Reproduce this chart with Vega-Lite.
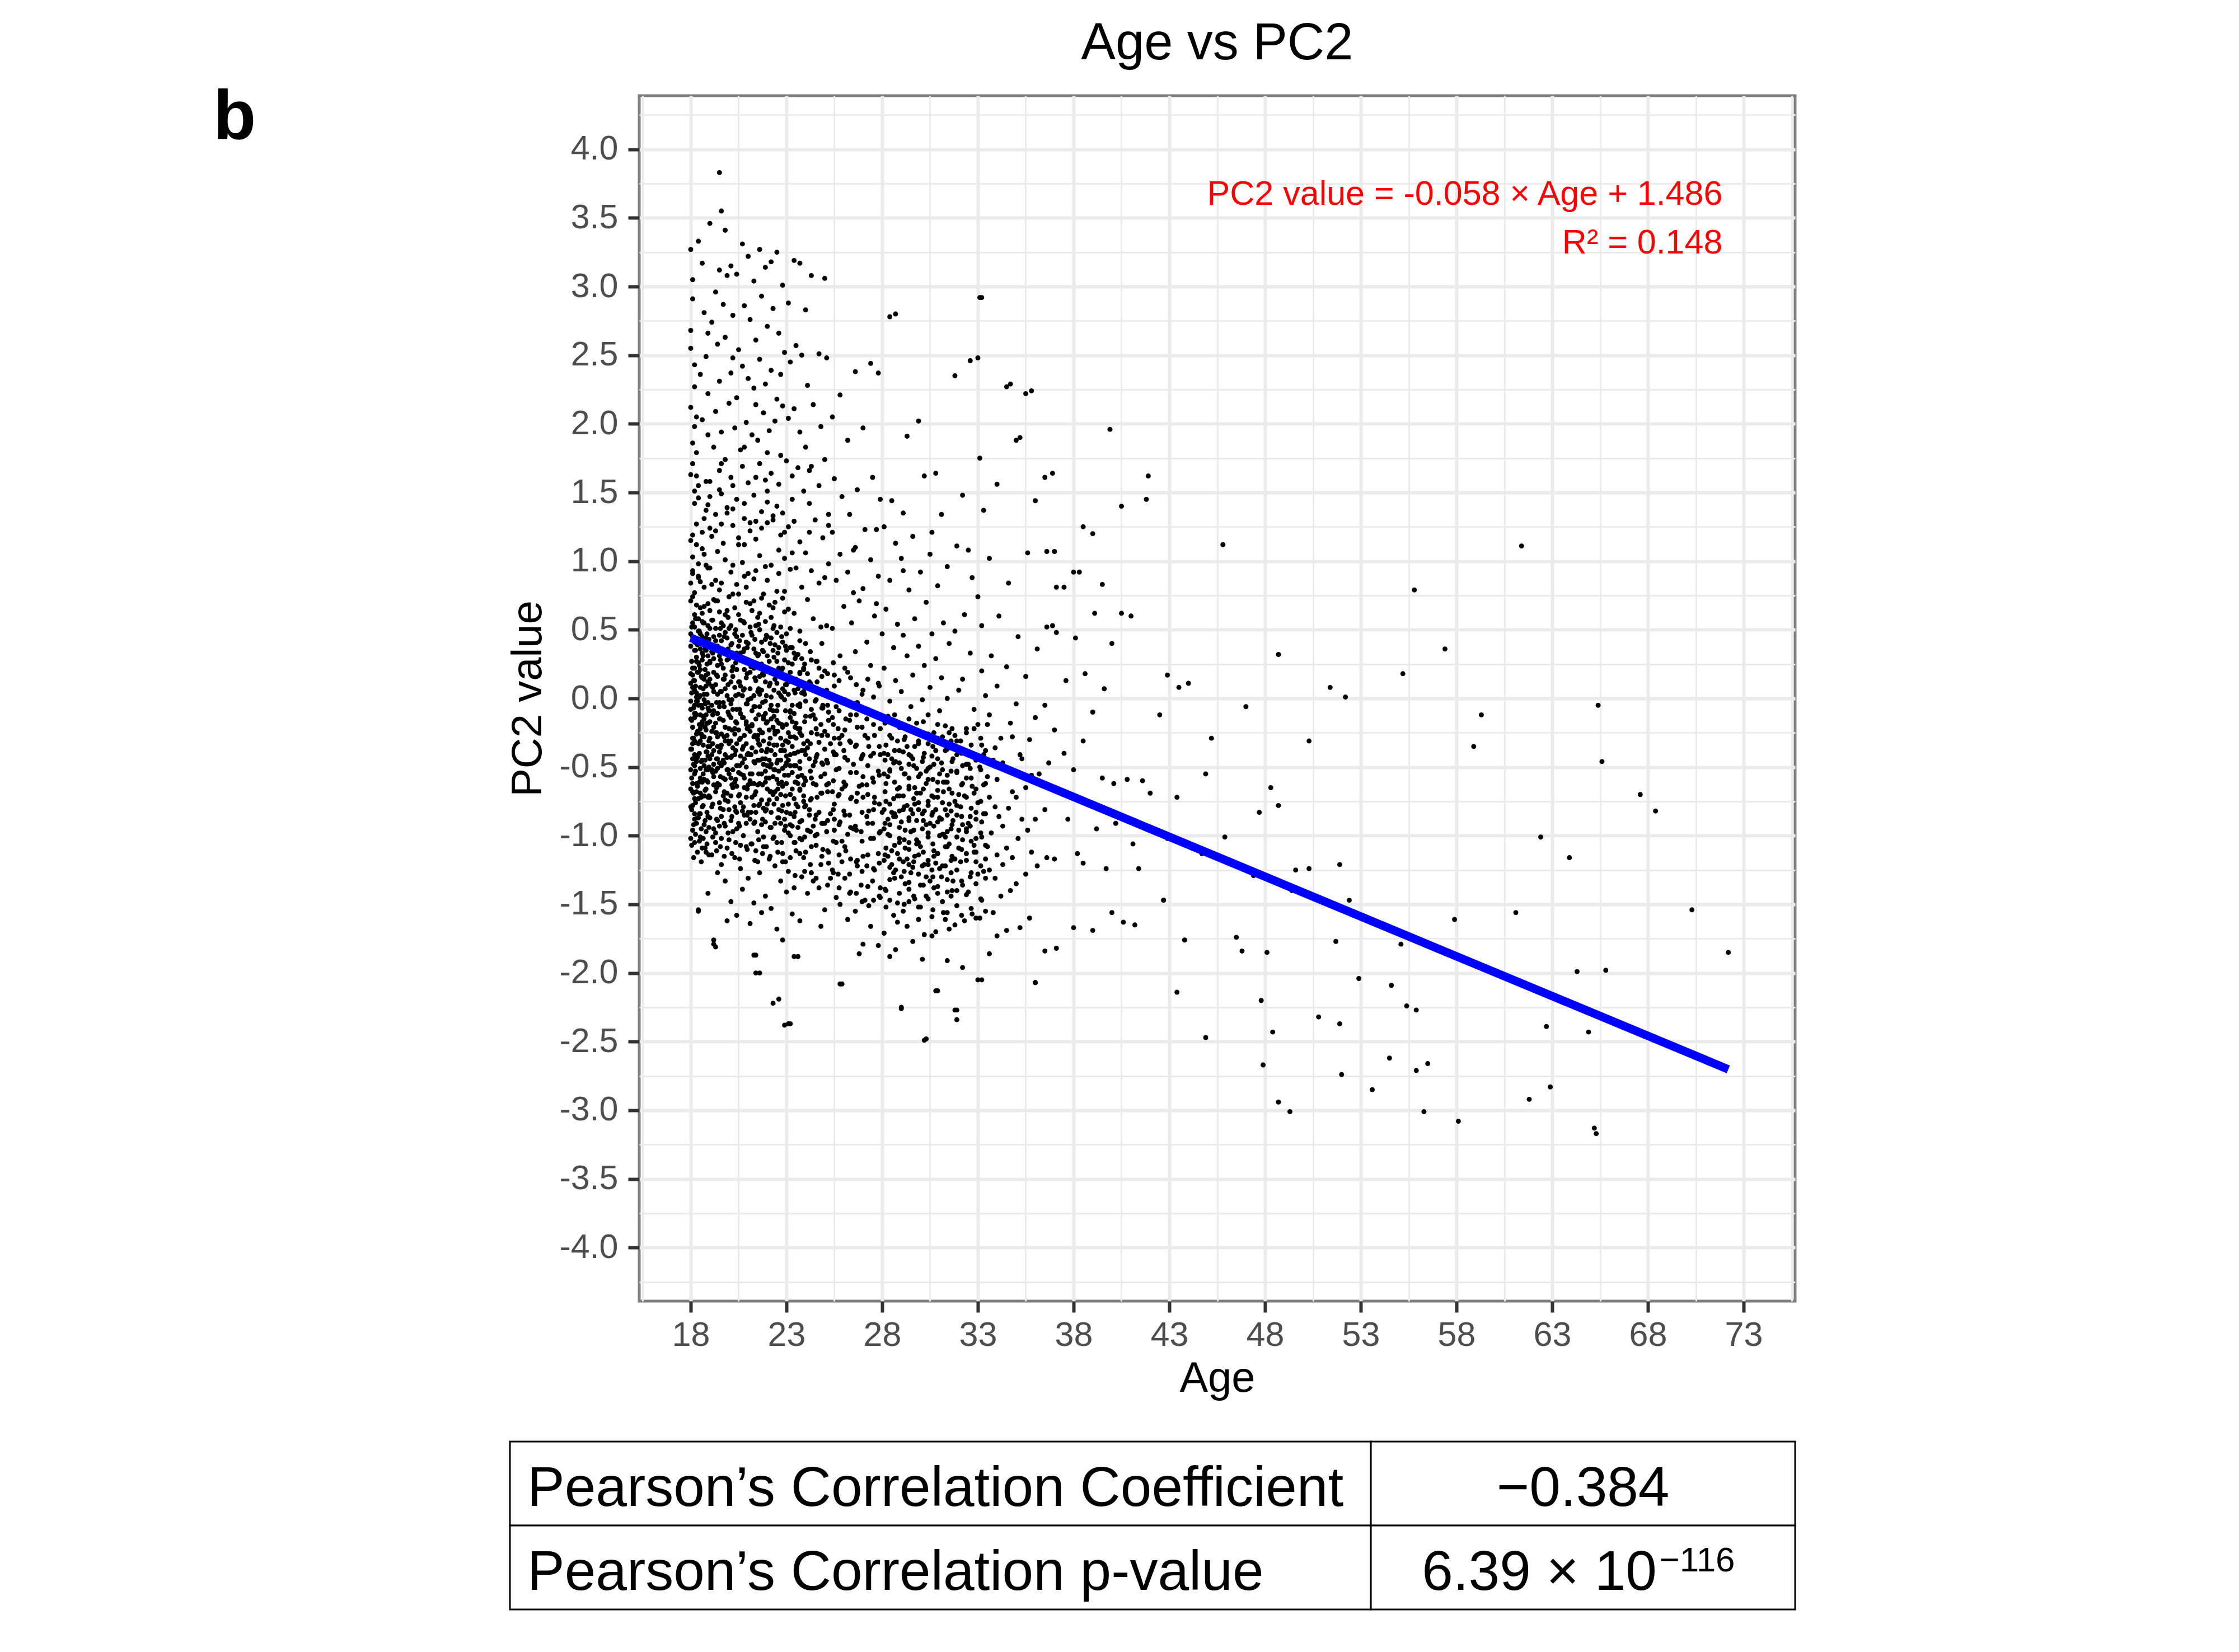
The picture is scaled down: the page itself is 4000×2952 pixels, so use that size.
{
  "$schema": "https://vega.github.io/schema/vega-lite/v6.json",
  "background": "white",
  "padding": {"left": 378, "top": 29, "right": 10, "bottom": 10},
  "spacing": 70,
  "config": {
    "font": "Liberation Sans",
    "view": {"stroke": "#7F7F7F", "strokeWidth": 5}
  },
  "datasets": {
    "points": [
      {"age":18.0,"pc2":3.27},{"age":18.1,"pc2":3.05},{"age":18.0,"pc2":2.68},{"age":18.2,"pc2":2.43},{"age":18.0,"pc2":2.12},{"age":18.1,"pc2":1.86},{"age":18.0,"pc2":1.63},{"age":18.2,"pc2":1.42},{"age":18.0,"pc2":1.15},{"age":18.1,"pc2":0.93},{"age":18.0,"pc2":0.71},{"age":18.2,"pc2":0.52},{"age":18.0,"pc2":0.38},{"age":18.1,"pc2":0.22},{"age":18.0,"pc2":0.11},{"age":18.3,"pc2":0.04},{"age":18.0,"pc2":-0.08},{"age":18.1,"pc2":-0.21},{"age":18.0,"pc2":-0.37},{"age":18.2,"pc2":-0.55},{"age":18.0,"pc2":-0.79},{"age":18.1,"pc2":-0.96},
      {"age":18.1,"pc2":2.91},{"age":18.0,"pc2":2.55},{"age":18.2,"pc2":1.98},{"age":18.1,"pc2":1.71},{"age":18.3,"pc2":1.27},{"age":18.1,"pc2":1.03},{"age":18.0,"pc2":0.84},{"age":18.2,"pc2":0.61},{"age":18.1,"pc2":0.45},{"age":18.3,"pc2":0.30},{"age":18.1,"pc2":0.17},{"age":18.2,"pc2":0.06},{"age":18.0,"pc2":-0.02},{"age":18.2,"pc2":-0.14},{"age":18.1,"pc2":-0.29},{"age":18.3,"pc2":-0.46},{"age":18.1,"pc2":-0.68},{"age":18.2,"pc2":-0.88},{"age":18.0,"pc2":-1.02},
      {"age":18.2,"pc2":2.27},{"age":18.3,"pc2":1.79},{"age":18.2,"pc2":1.51},{"age":18.4,"pc2":0.98},{"age":18.2,"pc2":0.77},{"age":18.3,"pc2":0.58},{"age":18.2,"pc2":0.41},{"age":18.4,"pc2":0.26},{"age":18.2,"pc2":0.13},{"age":18.3,"pc2":0.01},{"age":18.2,"pc2":-0.11},{"age":18.4,"pc2":-0.25},{"age":18.2,"pc2":-0.41},{"age":18.3,"pc2":-0.62},{"age":18.2,"pc2":-0.84},
      {"age":18.4,"pc2":3.33},{"age":18.5,"pc2":2.36},{"age":18.4,"pc2":1.55},{"age":18.6,"pc2":1.21},{"age":18.4,"pc2":0.89},{"age":18.5,"pc2":0.66},{"age":18.4,"pc2":0.49},{"age":18.6,"pc2":0.33},{"age":18.4,"pc2":0.19},{"age":18.5,"pc2":0.08},{"age":18.4,"pc2":-0.05},{"age":18.6,"pc2":-0.17},{"age":18.4,"pc2":-0.33},{"age":18.5,"pc2":-0.51},{"age":18.4,"pc2":-0.73},{"age":18.6,"pc2":-1.09},{"age":18.4,"pc2":-1.55},
      {"age":18.6,"pc2":3.17},{"age":18.7,"pc2":2.81},{"age":18.6,"pc2":2.03},{"age":18.8,"pc2":1.37},{"age":18.6,"pc2":1.09},{"age":18.7,"pc2":0.81},{"age":18.6,"pc2":0.56},{"age":18.8,"pc2":0.35},{"age":18.6,"pc2":0.15},{"age":18.7,"pc2":-0.01},{"age":18.6,"pc2":-0.19},{"age":18.8,"pc2":-0.39},{"age":18.6,"pc2":-0.61},{"age":18.7,"pc2":-0.92},
      {"age":18.8,"pc2":2.49},{"age":18.9,"pc2":1.92},{"age":18.8,"pc2":1.58},{"age":19.0,"pc2":1.24},{"age":18.8,"pc2":0.97},{"age":18.9,"pc2":0.69},{"age":18.8,"pc2":0.44},{"age":19.0,"pc2":0.27},{"age":18.8,"pc2":0.09},{"age":18.9,"pc2":-0.07},{"age":18.8,"pc2":-0.23},{"age":19.0,"pc2":-0.44},{"age":18.8,"pc2":-0.66},{"age":18.9,"pc2":-0.86},{"age":18.8,"pc2":-1.12},
      {"age":19.0,"pc2":3.46},{"age":19.1,"pc2":2.74},{"age":18.9,"pc2":2.22},{"age":19.2,"pc2":1.83},{"age":19.0,"pc2":1.47},{"age":19.1,"pc2":1.18},{"age":18.9,"pc2":0.95},{"age":19.2,"pc2":0.72},{"age":19.0,"pc2":0.51},{"age":19.1,"pc2":0.34},{"age":18.9,"pc2":0.18},{"age":19.2,"pc2":0.05},{"age":19.0,"pc2":-0.09},{"age":19.1,"pc2":-0.24},{"age":18.9,"pc2":-0.42},{"age":19.2,"pc2":-0.63},{"age":19.0,"pc2":-0.87},{"age":19.1,"pc2":-1.14},{"age":18.9,"pc2":-1.42},{"age":19.2,"pc2":-1.76},
      {"age":19.3,"pc2":2.96},{"age":19.4,"pc2":2.58},{"age":19.3,"pc2":2.09},{"age":19.5,"pc2":1.66},{"age":19.3,"pc2":1.34},{"age":19.4,"pc2":1.07},{"age":19.3,"pc2":0.86},{"age":19.5,"pc2":0.63},{"age":19.3,"pc2":0.42},{"age":19.4,"pc2":0.24},{"age":19.3,"pc2":0.10},{"age":19.5,"pc2":-0.03},{"age":19.3,"pc2":-0.18},{"age":19.4,"pc2":-0.35},{"age":19.3,"pc2":-0.53},{"age":19.5,"pc2":-0.76},{"age":19.3,"pc2":-0.98},{"age":19.4,"pc2":-1.27},{"age":19.3,"pc2":-1.81},
      {"age":19.5,"pc2":3.83},{"age":19.6,"pc2":3.55},{"age":19.5,"pc2":3.12},{"age":19.7,"pc2":2.87},{"age":19.5,"pc2":2.31},{"age":19.6,"pc2":1.94},{"age":19.5,"pc2":1.52},{"age":19.7,"pc2":1.13},{"age":19.5,"pc2":0.79},{"age":19.6,"pc2":0.55},{"age":19.5,"pc2":0.31},{"age":19.7,"pc2":0.14},{"age":19.5,"pc2":-0.06},{"age":19.6,"pc2":-0.26},{"age":19.5,"pc2":-0.47},{"age":19.7,"pc2":-0.71},{"age":19.5,"pc2":-0.93},{"age":19.6,"pc2":-1.21},
      {"age":19.8,"pc2":3.41},{"age":19.9,"pc2":3.08},{"age":19.8,"pc2":2.63},{"age":20.0,"pc2":2.15},{"age":19.8,"pc2":1.74},{"age":19.9,"pc2":1.39},{"age":19.8,"pc2":1.01},{"age":20.0,"pc2":0.74},{"age":19.8,"pc2":0.48},{"age":19.9,"pc2":0.28},{"age":19.8,"pc2":0.07},{"age":20.0,"pc2":-0.12},{"age":19.8,"pc2":-0.31},{"age":19.9,"pc2":-0.52},{"age":19.8,"pc2":-0.74},{"age":20.0,"pc2":-1.03},{"age":19.8,"pc2":-1.33},{"age":19.9,"pc2":-1.62},
      {"age":20.1,"pc2":3.15},{"age":20.2,"pc2":2.79},{"age":20.1,"pc2":2.37},{"age":20.3,"pc2":1.97},{"age":20.1,"pc2":1.61},{"age":20.2,"pc2":1.26},{"age":20.1,"pc2":0.92},{"age":20.3,"pc2":0.66},{"age":20.1,"pc2":0.39},{"age":20.2,"pc2":0.16},{"age":20.1,"pc2":-0.04},{"age":20.3,"pc2":-0.22},{"age":20.1,"pc2":-0.43},{"age":20.2,"pc2":-0.65},{"age":20.1,"pc2":-0.89},{"age":20.3,"pc2":-1.16},{"age":20.1,"pc2":-1.48},
      {"age":20.4,"pc2":3.09},{"age":20.5,"pc2":2.54},{"age":20.4,"pc2":2.19},{"age":20.6,"pc2":1.81},{"age":20.4,"pc2":1.45},{"age":20.5,"pc2":1.12},{"age":20.4,"pc2":0.83},{"age":20.6,"pc2":0.57},{"age":20.4,"pc2":0.33},{"age":20.5,"pc2":0.12},{"age":20.4,"pc2":-0.08},{"age":20.6,"pc2":-0.29},{"age":20.4,"pc2":-0.49},{"age":20.5,"pc2":-0.71},{"age":20.4,"pc2":-0.95},{"age":20.6,"pc2":-1.24},{"age":20.4,"pc2":-1.58},
      {"age":20.7,"pc2":3.31},{"age":20.8,"pc2":2.86},{"age":20.7,"pc2":2.42},{"age":20.9,"pc2":2.01},{"age":20.7,"pc2":1.69},{"age":20.8,"pc2":1.31},{"age":20.7,"pc2":0.99},{"age":20.9,"pc2":0.70},{"age":20.7,"pc2":0.46},{"age":20.8,"pc2":0.21},{"age":20.7,"pc2":0.02},{"age":20.9,"pc2":-0.17},{"age":20.7,"pc2":-0.37},{"age":20.8,"pc2":-0.58},{"age":20.7,"pc2":-0.82},{"age":20.9,"pc2":-1.08},{"age":20.7,"pc2":-1.39},
      {"age":21.0,"pc2":3.22},{"age":21.1,"pc2":2.76},{"age":21.0,"pc2":2.33},{"age":21.2,"pc2":1.92},{"age":21.0,"pc2":1.57},{"age":21.1,"pc2":1.22},{"age":21.0,"pc2":0.91},{"age":21.2,"pc2":0.64},{"age":21.0,"pc2":0.40},{"age":21.1,"pc2":0.19},{"age":21.0,"pc2":-0.01},{"age":21.2,"pc2":-0.20},{"age":21.0,"pc2":-0.40},{"age":21.1,"pc2":-0.60},{"age":21.0,"pc2":-0.83},{"age":21.2,"pc2":-1.06},{"age":21.0,"pc2":-1.31},{"age":21.1,"pc2":-1.64},
      {"age":21.3,"pc2":3.04},{"age":21.4,"pc2":2.61},{"age":21.3,"pc2":2.26},{"age":21.5,"pc2":1.88},{"age":21.3,"pc2":1.48},{"age":21.4,"pc2":1.16},{"age":21.3,"pc2":0.87},{"age":21.5,"pc2":0.59},{"age":21.3,"pc2":0.36},{"age":21.4,"pc2":0.13},{"age":21.3,"pc2":-0.06},{"age":21.5,"pc2":-0.27},{"age":21.3,"pc2":-0.46},{"age":21.4,"pc2":-0.68},{"age":21.3,"pc2":-0.91},{"age":21.5,"pc2":-1.19},{"age":21.3,"pc2":-1.49},{"age":21.4,"pc2":-1.87},
      {"age":21.6,"pc2":3.27},{"age":21.7,"pc2":2.93},{"age":21.6,"pc2":2.47},{"age":21.8,"pc2":2.08},{"age":21.6,"pc2":1.71},{"age":21.7,"pc2":1.36},{"age":21.6,"pc2":1.04},{"age":21.8,"pc2":0.76},{"age":21.6,"pc2":0.50},{"age":21.7,"pc2":0.25},{"age":21.6,"pc2":0.03},{"age":21.8,"pc2":-0.15},{"age":21.6,"pc2":-0.34},{"age":21.7,"pc2":-0.55},{"age":21.6,"pc2":-0.77},{"age":21.8,"pc2":-1.01},{"age":21.6,"pc2":-1.27},{"age":21.7,"pc2":-1.56},{"age":21.6,"pc2":-2.00},
      {"age":21.9,"pc2":3.14},{"age":22.0,"pc2":2.71},{"age":21.9,"pc2":2.29},{"age":22.1,"pc2":1.95},{"age":21.9,"pc2":1.59},{"age":22.0,"pc2":1.28},{"age":21.9,"pc2":0.96},{"age":22.1,"pc2":0.68},{"age":21.9,"pc2":0.43},{"age":22.0,"pc2":0.20},{"age":21.9,"pc2":-0.02},{"age":22.1,"pc2":-0.23},{"age":21.9,"pc2":-0.44},{"age":22.0,"pc2":-0.66},{"age":21.9,"pc2":-0.90},{"age":22.1,"pc2":-1.17},{"age":21.9,"pc2":-1.44},
      {"age":22.2,"pc2":3.18},{"age":22.3,"pc2":2.84},{"age":22.2,"pc2":2.39},{"age":22.4,"pc2":2.02},{"age":22.2,"pc2":1.64},{"age":22.3,"pc2":1.30},{"age":22.2,"pc2":0.97},{"age":22.4,"pc2":0.70},{"age":22.2,"pc2":0.44},{"age":22.3,"pc2":0.18},{"age":22.2,"pc2":-0.05},{"age":22.4,"pc2":-0.26},{"age":22.2,"pc2":-0.48},{"age":22.3,"pc2":-0.70},{"age":22.2,"pc2":-0.94},{"age":22.4,"pc2":-1.22},{"age":22.2,"pc2":-1.53},{"age":22.3,"pc2":-2.22},
      {"age":22.5,"pc2":3.25},{"age":22.6,"pc2":2.66},{"age":22.5,"pc2":2.18},{"age":22.7,"pc2":1.77},{"age":22.5,"pc2":1.40},{"age":22.6,"pc2":1.08},{"age":22.5,"pc2":0.78},{"age":22.7,"pc2":0.52},{"age":22.5,"pc2":0.27},{"age":22.6,"pc2":0.04},{"age":22.5,"pc2":-0.16},{"age":22.7,"pc2":-0.38},{"age":22.5,"pc2":-0.59},{"age":22.6,"pc2":-0.81},{"age":22.5,"pc2":-1.05},{"age":22.7,"pc2":-1.33},{"age":22.5,"pc2":-1.68},
      {"age":22.8,"pc2":3.01},{"age":22.9,"pc2":2.52},{"age":22.8,"pc2":2.13},{"age":23.0,"pc2":1.73},{"age":22.8,"pc2":1.35},{"age":22.9,"pc2":1.02},{"age":22.8,"pc2":0.73},{"age":23.0,"pc2":0.47},{"age":22.8,"pc2":0.22},{"age":22.9,"pc2":-0.01},{"age":22.8,"pc2":-0.21},{"age":23.0,"pc2":-0.42},{"age":22.8,"pc2":-0.64},{"age":22.9,"pc2":-0.88},{"age":22.8,"pc2":-1.13},{"age":23.0,"pc2":-1.41},{"age":22.8,"pc2":-1.76},{"age":22.9,"pc2":-2.38},
      {"age":23.1,"pc2":2.88},{"age":23.2,"pc2":2.45},{"age":23.1,"pc2":2.04},{"age":23.3,"pc2":1.62},{"age":23.1,"pc2":1.25},{"age":23.2,"pc2":0.94},{"age":23.1,"pc2":0.65},{"age":23.3,"pc2":0.37},{"age":23.1,"pc2":0.12},{"age":23.2,"pc2":-0.10},{"age":23.1,"pc2":-0.32},{"age":23.3,"pc2":-0.54},{"age":23.1,"pc2":-0.77},{"age":23.2,"pc2":-1.00},{"age":23.1,"pc2":-1.26},{"age":23.3,"pc2":-1.57},{"age":23.2,"pc2":-2.37},
      {"age":23.4,"pc2":3.19},{"age":23.5,"pc2":2.57},{"age":23.4,"pc2":2.11},{"age":23.6,"pc2":1.68},{"age":23.4,"pc2":1.29},{"age":23.5,"pc2":0.95},{"age":23.4,"pc2":0.62},{"age":23.6,"pc2":0.32},{"age":23.4,"pc2":0.06},{"age":23.5,"pc2":-0.18},{"age":23.4,"pc2":-0.40},{"age":23.6,"pc2":-0.62},{"age":23.4,"pc2":-0.86},{"age":23.5,"pc2":-1.11},{"age":23.4,"pc2":-1.38},{"age":23.6,"pc2":-1.88},
      {"age":23.7,"pc2":3.17},{"age":23.8,"pc2":2.50},{"age":23.7,"pc2":1.94},{"age":23.9,"pc2":1.51},{"age":23.7,"pc2":1.14},{"age":23.8,"pc2":0.81},{"age":23.7,"pc2":0.49},{"age":23.9,"pc2":0.21},{"age":23.7,"pc2":-0.04},{"age":23.8,"pc2":-0.27},{"age":23.7,"pc2":-0.51},{"age":23.9,"pc2":-0.75},{"age":23.7,"pc2":-1.02},{"age":23.8,"pc2":-1.30},{"age":23.7,"pc2":-1.62},
      {"age":24.0,"pc2":2.83},{"age":24.1,"pc2":2.28},{"age":24.0,"pc2":1.83},{"age":24.2,"pc2":1.42},{"age":24.0,"pc2":1.06},{"age":24.1,"pc2":0.72},{"age":24.0,"pc2":0.40},{"age":24.2,"pc2":0.12},{"age":24.0,"pc2":-0.13},{"age":24.1,"pc2":-0.36},{"age":24.0,"pc2":-0.60},{"age":24.2,"pc2":-0.85},{"age":24.0,"pc2":-1.12},{"age":24.1,"pc2":-1.42},
      {"age":24.3,"pc2":3.08},{"age":24.4,"pc2":2.14},{"age":24.3,"pc2":1.69},{"age":24.5,"pc2":1.30},{"age":24.3,"pc2":0.93},{"age":24.4,"pc2":0.58},{"age":24.3,"pc2":0.28},{"age":24.5,"pc2":-0.02},{"age":24.3,"pc2":-0.25},{"age":24.4,"pc2":-0.49},{"age":24.3,"pc2":-0.73},{"age":24.5,"pc2":-1.00},{"age":24.3,"pc2":-1.27},{"age":24.4,"pc2":-1.33},
      {"age":24.7,"pc2":2.51},{"age":24.8,"pc2":1.98},{"age":24.7,"pc2":1.55},{"age":24.9,"pc2":1.17},{"age":24.7,"pc2":0.84},{"age":24.8,"pc2":0.52},{"age":24.7,"pc2":0.22},{"age":24.9,"pc2":-0.07},{"age":24.7,"pc2":-0.32},{"age":24.8,"pc2":-0.57},{"age":24.7,"pc2":-0.83},{"age":24.9,"pc2":-1.10},{"age":24.7,"pc2":-1.38},{"age":24.8,"pc2":-1.66},
      {"age":25.0,"pc2":3.06},{"age":25.1,"pc2":2.48},{"age":25.0,"pc2":1.74},{"age":25.2,"pc2":1.26},{"age":25.0,"pc2":0.88},{"age":25.1,"pc2":0.53},{"age":25.0,"pc2":0.20},{"age":25.2,"pc2":-0.10},{"age":25.0,"pc2":-0.37},{"age":25.1,"pc2":-0.63},{"age":25.0,"pc2":-0.91},{"age":25.2,"pc2":-1.20},{"age":25.0,"pc2":-1.54},
      {"age":25.4,"pc2":2.05},{"age":25.5,"pc2":1.60},{"age":25.4,"pc2":1.21},{"age":25.6,"pc2":0.86},{"age":25.4,"pc2":0.51},{"age":25.5,"pc2":0.17},{"age":25.4,"pc2":-0.14},{"age":25.6,"pc2":-0.41},{"age":25.4,"pc2":-0.68},{"age":25.5,"pc2":-0.96},{"age":25.4,"pc2":-1.25},{"age":25.6,"pc2":-1.45},
      {"age":25.8,"pc2":2.21},{"age":25.9,"pc2":1.47},{"age":25.8,"pc2":1.05},{"age":26.0,"pc2":0.67},{"age":25.8,"pc2":0.31},{"age":25.9,"pc2":-0.02},{"age":25.8,"pc2":-0.33},{"age":26.0,"pc2":-0.61},{"age":25.8,"pc2":-0.90},{"age":25.9,"pc2":-1.19},{"age":25.8,"pc2":-1.50},{"age":25.9,"pc2":-2.08},
      {"age":26.2,"pc2":1.88},{"age":26.3,"pc2":1.34},{"age":26.2,"pc2":0.92},{"age":26.4,"pc2":0.55},{"age":26.2,"pc2":0.19},{"age":26.3,"pc2":-0.16},{"age":26.2,"pc2":-0.45},{"age":26.4,"pc2":-0.72},{"age":26.2,"pc2":-0.99},{"age":26.3,"pc2":-1.28},{"age":26.2,"pc2":-1.61},
      {"age":26.6,"pc2":2.38},{"age":26.7,"pc2":1.52},{"age":26.6,"pc2":1.10},{"age":26.8,"pc2":0.71},{"age":26.6,"pc2":0.34},{"age":26.7,"pc2":-0.03},{"age":26.6,"pc2":-0.35},{"age":26.8,"pc2":-0.64},{"age":26.6,"pc2":-0.93},{"age":26.7,"pc2":-1.22},{"age":26.6,"pc2":-1.55},{"age":26.8,"pc2":-1.86},
      {"age":27.0,"pc2":1.97},{"age":27.1,"pc2":1.23},{"age":27.0,"pc2":0.80},{"age":27.2,"pc2":0.41},{"age":27.0,"pc2":0.06},{"age":27.1,"pc2":-0.27},{"age":27.0,"pc2":-0.57},{"age":27.2,"pc2":-0.86},{"age":27.0,"pc2":-1.15},{"age":27.1,"pc2":-1.47},{"age":27.0,"pc2":-1.79},
      {"age":27.4,"pc2":2.44},{"age":27.5,"pc2":1.61},{"age":27.4,"pc2":1.01},{"age":27.6,"pc2":0.60},{"age":27.4,"pc2":0.24},{"age":27.5,"pc2":-0.11},{"age":27.4,"pc2":-0.42},{"age":27.6,"pc2":-0.72},{"age":27.4,"pc2":-1.02},{"age":27.5,"pc2":-1.33},{"age":27.4,"pc2":-1.66},
      {"age":27.8,"pc2":2.37},{"age":27.9,"pc2":1.45},{"age":27.8,"pc2":0.89},{"age":28.0,"pc2":0.47},{"age":27.8,"pc2":0.11},{"age":27.9,"pc2":-0.22},{"age":27.8,"pc2":-0.53},{"age":28.0,"pc2":-0.83},{"age":27.8,"pc2":-1.13},{"age":27.9,"pc2":-1.45},{"age":27.8,"pc2":-1.80},
      {"age":28.1,"pc2":1.25},{"age":28.2,"pc2":0.65},{"age":28.1,"pc2":0.22},{"age":28.3,"pc2":-0.13},{"age":28.1,"pc2":-0.40},{"age":28.2,"pc2":-0.62},{"age":28.1,"pc2":-0.81},{"age":28.3,"pc2":-0.99},{"age":28.1,"pc2":-1.18},{"age":28.2,"pc2":-1.40},{"age":28.1,"pc2":-1.71},
      {"age":28.4,"pc2":2.78},{"age":28.5,"pc2":1.44},{"age":28.4,"pc2":0.86},{"age":28.6,"pc2":0.37},{"age":28.4,"pc2":-0.02},{"age":28.5,"pc2":-0.29},{"age":28.4,"pc2":-0.52},{"age":28.6,"pc2":-0.73},{"age":28.4,"pc2":-0.92},{"age":28.5,"pc2":-1.11},{"age":28.4,"pc2":-1.32},{"age":28.6,"pc2":-1.58},{"age":28.4,"pc2":-1.88},
      {"age":28.7,"pc2":1.13},{"age":28.8,"pc2":0.54},{"age":28.7,"pc2":0.13},{"age":28.9,"pc2":-0.21},{"age":28.7,"pc2":-0.46},{"age":28.8,"pc2":-0.66},{"age":28.7,"pc2":-0.86},{"age":28.9,"pc2":-1.05},{"age":28.7,"pc2":-1.25},{"age":28.8,"pc2":-1.49},{"age":28.7,"pc2":-1.83},
      {"age":29.0,"pc2":1.02},{"age":29.1,"pc2":0.46},{"age":29.0,"pc2":0.05},{"age":29.2,"pc2":-0.28},{"age":29.0,"pc2":-0.51},{"age":29.1,"pc2":-0.71},{"age":29.0,"pc2":-0.90},{"age":29.2,"pc2":-1.09},{"age":29.0,"pc2":-1.30},{"age":29.1,"pc2":-1.55},{"age":29.0,"pc2":-2.26},
      {"age":29.3,"pc2":1.91},{"age":29.4,"pc2":0.79},{"age":29.3,"pc2":0.31},{"age":29.5,"pc2":-0.06},{"age":29.3,"pc2":-0.35},{"age":29.4,"pc2":-0.58},{"age":29.3,"pc2":-0.78},{"age":29.5,"pc2":-0.97},{"age":29.3,"pc2":-1.17},{"age":29.4,"pc2":-1.39},{"age":29.3,"pc2":-1.66},
      {"age":29.6,"pc2":1.18},{"age":29.7,"pc2":0.58},{"age":29.6,"pc2":0.17},{"age":29.8,"pc2":-0.18},{"age":29.6,"pc2":-0.44},{"age":29.7,"pc2":-0.65},{"age":29.6,"pc2":-0.84},{"age":29.8,"pc2":-1.03},{"age":29.6,"pc2":-1.23},{"age":29.7,"pc2":-1.46},{"age":29.6,"pc2":-1.77},
      {"age":29.9,"pc2":2.02},{"age":30.0,"pc2":0.92},{"age":29.9,"pc2":0.38},{"age":30.1,"pc2":-0.01},{"age":29.9,"pc2":-0.31},{"age":30.0,"pc2":-0.55},{"age":29.9,"pc2":-0.76},{"age":30.1,"pc2":-0.95},{"age":29.9,"pc2":-1.14},{"age":30.0,"pc2":-1.36},{"age":29.9,"pc2":-1.61},{"age":30.1,"pc2":-1.90},
      {"age":30.2,"pc2":1.62},{"age":30.3,"pc2":0.70},{"age":30.2,"pc2":0.24},{"age":30.4,"pc2":-0.12},{"age":30.2,"pc2":-0.40},{"age":30.3,"pc2":-0.62},{"age":30.2,"pc2":-0.82},{"age":30.4,"pc2":-1.01},{"age":30.2,"pc2":-1.21},{"age":30.3,"pc2":-1.44},{"age":30.2,"pc2":-1.72},{"age":30.3,"pc2":-2.48},
      {"age":30.5,"pc2":1.05},{"age":30.6,"pc2":0.47},{"age":30.5,"pc2":0.08},{"age":30.7,"pc2":-0.25},{"age":30.5,"pc2":-0.50},{"age":30.6,"pc2":-0.71},{"age":30.5,"pc2":-0.91},{"age":30.7,"pc2":-1.11},{"age":30.5,"pc2":-1.33},{"age":30.6,"pc2":-1.59},
      {"age":30.8,"pc2":1.64},{"age":30.9,"pc2":0.82},{"age":30.8,"pc2":0.29},{"age":31.0,"pc2":-0.09},{"age":30.8,"pc2":-0.38},{"age":30.9,"pc2":-0.61},{"age":30.8,"pc2":-0.81},{"age":31.0,"pc2":-1.00},{"age":30.8,"pc2":-1.20},{"age":30.9,"pc2":-1.42},{"age":30.8,"pc2":-1.70},{"age":30.9,"pc2":-2.13},
      {"age":31.1,"pc2":1.34},{"age":31.2,"pc2":0.55},{"age":31.1,"pc2":0.15},{"age":31.3,"pc2":-0.20},{"age":31.1,"pc2":-0.47},{"age":31.2,"pc2":-0.68},{"age":31.1,"pc2":-0.88},{"age":31.3,"pc2":-1.08},{"age":31.1,"pc2":-1.30},{"age":31.2,"pc2":-1.56},
      {"age":31.4,"pc2":0.96},{"age":31.5,"pc2":0.40},{"age":31.4,"pc2":0.00},{"age":31.6,"pc2":-0.31},{"age":31.4,"pc2":-0.56},{"age":31.5,"pc2":-0.77},{"age":31.4,"pc2":-0.97},{"age":31.6,"pc2":-1.18},{"age":31.4,"pc2":-1.41},{"age":31.5,"pc2":-1.68},{"age":31.4,"pc2":-1.91},
      {"age":31.8,"pc2":2.35},{"age":31.9,"pc2":1.11},{"age":31.8,"pc2":0.49},{"age":32.0,"pc2":0.06},{"age":31.8,"pc2":-0.27},{"age":31.9,"pc2":-0.53},{"age":31.8,"pc2":-0.75},{"age":32.0,"pc2":-0.96},{"age":31.8,"pc2":-1.17},{"age":31.9,"pc2":-1.40},{"age":31.8,"pc2":-1.65},{"age":31.9,"pc2":-2.27},
      {"age":32.2,"pc2":1.48},{"age":32.3,"pc2":0.61},{"age":32.2,"pc2":0.14},{"age":32.4,"pc2":-0.22},{"age":32.2,"pc2":-0.49},{"age":32.3,"pc2":-0.71},{"age":32.2,"pc2":-0.92},{"age":32.4,"pc2":-1.13},{"age":32.2,"pc2":-1.36},{"age":32.3,"pc2":-1.62},{"age":32.2,"pc2":-1.96},
      {"age":32.6,"pc2":2.46},{"age":32.7,"pc2":0.88},{"age":32.6,"pc2":0.33},{"age":32.8,"pc2":-0.08},{"age":32.6,"pc2":-0.40},{"age":32.7,"pc2":-0.64},{"age":32.6,"pc2":-0.86},{"age":32.8,"pc2":-1.07},{"age":32.6,"pc2":-1.30},{"age":32.7,"pc2":-1.57},
      {"age":33.0,"pc2":2.48},{"age":33.1,"pc2":1.75},{"age":33.0,"pc2":0.74},{"age":33.2,"pc2":0.20},{"age":33.0,"pc2":-0.19},{"age":33.1,"pc2":-0.50},{"age":33.0,"pc2":-0.76},{"age":33.2,"pc2":-1.01},{"age":33.0,"pc2":-1.28},{"age":33.1,"pc2":-1.60},{"age":33.0,"pc2":-2.05},
      {"age":33.2,"pc2":2.92},{"age":33.3,"pc2":1.37},{"age":33.2,"pc2":0.53},{"age":33.4,"pc2":0.02},{"age":33.2,"pc2":-0.34},{"age":33.3,"pc2":-0.63},{"age":33.2,"pc2":-0.90},{"age":33.4,"pc2":-1.17},{"age":33.2,"pc2":-1.47},
      {"age":33.6,"pc2":1.02},{"age":33.7,"pc2":0.31},{"age":33.6,"pc2":-0.12},{"age":33.8,"pc2":-0.45},{"age":33.6,"pc2":-0.72},{"age":33.7,"pc2":-0.98},{"age":33.6,"pc2":-1.25},{"age":33.8,"pc2":-1.56},{"age":33.6,"pc2":-1.86},
      {"age":34.0,"pc2":1.56},{"age":34.1,"pc2":0.60},{"age":34.0,"pc2":0.09},{"age":34.2,"pc2":-0.29},{"age":34.0,"pc2":-0.59},{"age":34.1,"pc2":-0.86},{"age":34.0,"pc2":-1.14},{"age":34.2,"pc2":-1.44},{"age":34.0,"pc2":-1.73},
      {"age":34.5,"pc2":2.27},{"age":34.6,"pc2":0.84},{"age":34.5,"pc2":0.23},{"age":34.7,"pc2":-0.18},{"age":34.5,"pc2":-0.51},{"age":34.6,"pc2":-0.80},{"age":34.5,"pc2":-1.09},{"age":34.7,"pc2":-1.40},{"age":34.5,"pc2":-1.69},
      {"age":35.0,"pc2":1.88},{"age":35.1,"pc2":0.45},{"age":35.0,"pc2":-0.04},{"age":35.2,"pc2":-0.41},{"age":35.0,"pc2":-0.72},{"age":35.1,"pc2":-1.02},{"age":35.0,"pc2":-1.35},{"age":35.2,"pc2":-1.67},
      {"age":35.5,"pc2":2.22},{"age":35.6,"pc2":1.06},{"age":35.5,"pc2":0.16},{"age":35.7,"pc2":-0.30},{"age":35.5,"pc2":-0.65},{"age":35.6,"pc2":-0.96},{"age":35.5,"pc2":-1.28},{"age":35.7,"pc2":-1.60},
      {"age":36.0,"pc2":1.44},{"age":36.1,"pc2":0.36},{"age":36.0,"pc2":-0.14},{"age":36.2,"pc2":-0.55},{"age":36.0,"pc2":-0.88},{"age":36.1,"pc2":-1.22},{"age":36.0,"pc2":-2.07},
      {"age":36.5,"pc2":1.61},{"age":36.6,"pc2":0.52},{"age":36.5,"pc2":-0.05},{"age":36.7,"pc2":-0.47},{"age":36.5,"pc2":-0.81},{"age":36.6,"pc2":-1.16},{"age":36.5,"pc2":-1.84},
      {"age":37.0,"pc2":1.07},{"age":37.1,"pc2":0.48},{"age":37.0,"pc2":-0.23},{"age":37.2,"pc2":-0.67},{"age":37.0,"pc2":-1.17},{"age":37.1,"pc2":-1.82},
      {"age":37.5,"pc2":0.81},{"age":37.6,"pc2":0.13},{"age":37.5,"pc2":-0.40},{"age":37.7,"pc2":-0.88},
      {"age":38.0,"pc2":0.92},{"age":38.1,"pc2":0.44},{"age":38.0,"pc2":-0.52},{"age":38.2,"pc2":-1.13},{"age":38.0,"pc2":-1.67},
      {"age":38.5,"pc2":1.25},{"age":38.6,"pc2":0.18},{"age":38.5,"pc2":-0.31},{"age":38.7,"pc2":-0.76},{"age":38.5,"pc2":-1.20},
      {"age":39.0,"pc2":1.20},{"age":39.1,"pc2":0.62},{"age":39.0,"pc2":-0.10},{"age":39.2,"pc2":-0.95},{"age":39.0,"pc2":-1.69},
      {"age":39.5,"pc2":0.83},{"age":39.6,"pc2":0.07},{"age":39.5,"pc2":-0.58},{"age":39.7,"pc2":-1.24},
      {"age":39.9,"pc2":1.96},{"age":40.0,"pc2":0.40},{"age":40.1,"pc2":-0.62},{"age":40.0,"pc2":-1.56},
      {"age":40.5,"pc2":1.40},{"age":40.5,"pc2":0.62},{"age":40.8,"pc2":-0.59},{"age":40.2,"pc2":-0.91},{"age":40.6,"pc2":-1.63},
      {"age":41.1,"pc2":-1.06},{"age":41.4,"pc2":-1.24},{"age":41.2,"pc2":-1.65},{"age":41.0,"pc2":0.60},
      {"age":41.9,"pc2":1.62},{"age":41.8,"pc2":1.45},{"age":41.6,"pc2":-0.60},{"age":42.0,"pc2":-0.69},{"age":42.5,"pc2":-0.12},{"age":42.7,"pc2":-1.47},
      {"age":42.9,"pc2":0.17},{"age":44.0,"pc2":0.11},{"age":43.5,"pc2":0.08},{"age":45.8,"pc2":1.12},{"age":61.4,"pc2":1.11},{"age":55.8,"pc2":0.79},{"age":57.4,"pc2":0.36},{"age":48.7,"pc2":0.32},{"age":55.2,"pc2":0.18},{"age":51.4,"pc2":0.08},{"age":52.2,"pc2":0.01},{"age":47.0,"pc2":-0.06},{"age":59.3,"pc2":-0.12},{"age":65.4,"pc2":-0.05},{"age":45.2,"pc2":-0.29},{"age":50.3,"pc2":-0.31},{"age":58.9,"pc2":-0.35},{"age":44.9,"pc2":-0.55},{"age":65.6,"pc2":-0.46},{"age":48.3,"pc2":-0.65},{"age":48.7,"pc2":-0.78},{"age":47.7,"pc2":-0.83},{"age":67.6,"pc2":-0.70},{"age":68.4,"pc2":-0.82},{"age":43.4,"pc2":-0.72},{"age":45.9,"pc2":-1.01},{"age":42.9,"pc2":-1.02},{"age":62.4,"pc2":-1.01},{"age":63.9,"pc2":-1.16},{"age":44.7,"pc2":-1.13},{"age":51.9,"pc2":-1.21},{"age":49.6,"pc2":-1.25},{"age":50.3,"pc2":-1.24},{"age":47.4,"pc2":-1.29},{"age":49.4,"pc2":-1.40},{"age":52.4,"pc2":-1.47},{"age":42.7,"pc2":-1.47},{"age":61.1,"pc2":-1.56},{"age":57.9,"pc2":-1.61},{"age":70.3,"pc2":-1.54},{"age":51.7,"pc2":-1.77},{"age":46.5,"pc2":-1.74},{"age":43.8,"pc2":-1.76},{"age":46.8,"pc2":-1.84},{"age":55.1,"pc2":-1.79},{"age":48.1,"pc2":-1.85},{"age":72.2,"pc2":-1.85},{"age":65.8,"pc2":-1.98},{"age":64.3,"pc2":-1.99},{"age":52.9,"pc2":-2.04},{"age":54.6,"pc2":-2.09},{"age":43.4,"pc2":-2.14},{"age":47.8,"pc2":-2.20},{"age":55.4,"pc2":-2.24},{"age":55.9,"pc2":-2.27},{"age":50.8,"pc2":-2.32},{"age":51.9,"pc2":-2.37},{"age":48.4,"pc2":-2.43},{"age":62.7,"pc2":-2.39},{"age":64.9,"pc2":-2.43},{"age":44.9,"pc2":-2.47},{"age":54.5,"pc2":-2.62},{"age":47.9,"pc2":-2.67},{"age":56.5,"pc2":-2.66},{"age":55.9,"pc2":-2.71},{"age":52.0,"pc2":-2.74},{"age":53.6,"pc2":-2.85},{"age":62.9,"pc2":-2.83},{"age":61.8,"pc2":-2.92},{"age":48.7,"pc2":-2.94},{"age":49.3,"pc2":-3.01},{"age":56.3,"pc2":-3.01},{"age":58.1,"pc2":-3.08},{"age":65.2,"pc2":-3.13},{"age":65.3,"pc2":-3.17},
      {"age":36.0,"pc2":-2.07},{"age":33.2,"pc2":-2.05},{"age":31.8,"pc2":-2.27},{"age":31.9,"pc2":-2.34},{"age":30.2,"pc2":-2.49},{"age":29.0,"pc2":-2.25},{"age":30.8,"pc2":-2.13},{"age":25.8,"pc2":-2.08},{"age":23.4,"pc2":-1.88},{"age":22.6,"pc2":-2.19},{"age":23.1,"pc2":-2.37},{"age":21.4,"pc2":-2.00},{"age":19.2,"pc2":-1.79},{"age":18.4,"pc2":-1.54},{"age":21.3,"pc2":-1.87},{"age":35.8,"pc2":2.24},{"age":34.7,"pc2":2.29},{"age":33.1,"pc2":2.92},{"age":28.7,"pc2":2.80},{"age":35.2,"pc2":1.90},{"age":36.9,"pc2":1.64},{"age":36.6,"pc2":1.07},{"age":38.3,"pc2":0.92},{"age":37.1,"pc2":0.81},{"age":36.9,"pc2":0.53},
      {"age":18.3,"pc2":0.27},{"age":18.3,"pc2":-0.12},{"age":18.3,"pc2":-0.44},{"age":18.5,"pc2":0.36},{"age":18.5,"pc2":0.02},{"age":18.5,"pc2":-0.31},{"age":18.5,"pc2":-0.58},{"age":18.7,"pc2":0.14},{"age":18.7,"pc2":-0.15},{"age":18.7,"pc2":-0.49},{"age":18.9,"pc2":0.31},{"age":18.9,"pc2":-0.03},{"age":18.9,"pc2":-0.35},{"age":18.9,"pc2":-0.72},{"age":19.2,"pc2":0.19},{"age":19.2,"pc2":-0.21},{"age":19.2,"pc2":-0.57},{"age":19.4,"pc2":0.38},{"age":19.4,"pc2":0.03},{"age":19.4,"pc2":-0.28},{"age":19.4,"pc2":-0.62},{"age":19.7,"pc2":0.22},{"age":19.7,"pc2":-0.16},{"age":19.7,"pc2":-0.45},{"age":19.7,"pc2":-0.81},{"age":20.0,"pc2":0.29},{"age":20.0,"pc2":-0.01},{"age":20.0,"pc2":-0.33},{"age":20.0,"pc2":-0.55},{"age":20.3,"pc2":0.08},{"age":20.3,"pc2":-0.26},{"age":20.3,"pc2":-0.61},{"age":20.6,"pc2":0.33},{"age":20.6,"pc2":-0.11},{"age":20.6,"pc2":-0.42},{"age":20.6,"pc2":-0.76},{"age":20.9,"pc2":0.15},{"age":20.9,"pc2":-0.19},{"age":20.9,"pc2":-0.50},{"age":21.2,"pc2":0.26},{"age":21.2,"pc2":-0.09},{"age":21.2,"pc2":-0.36},{"age":21.2,"pc2":-0.72},{"age":21.5,"pc2":0.05},{"age":21.5,"pc2":-0.30},{"age":21.5,"pc2":-0.63},{"age":21.8,"pc2":0.17},{"age":21.8,"pc2":-0.13},{"age":21.8,"pc2":-0.48},{"age":21.8,"pc2":-0.80},{"age":22.1,"pc2":0.09},{"age":22.1,"pc2":-0.33},{"age":22.1,"pc2":-0.58},{"age":22.4,"pc2":0.14},{"age":22.4,"pc2":-0.24},{"age":22.4,"pc2":-0.52},{"age":22.4,"pc2":-0.91},{"age":22.7,"pc2":0.02},{"age":22.7,"pc2":-0.29},{"age":22.7,"pc2":-0.70},{"age":23.0,"pc2":0.10},{"age":23.0,"pc2":-0.19},{"age":23.0,"pc2":-0.47},{"age":23.0,"pc2":-0.83},{"age":23.3,"pc2":-0.05},{"age":23.3,"pc2":-0.35},{"age":23.3,"pc2":-0.66},{"age":23.6,"pc2":0.07},{"age":23.6,"pc2":-0.22},{"age":23.6,"pc2":-0.57},{"age":23.6,"pc2":-0.94},{"age":24.0,"pc2":-0.02},{"age":24.0,"pc2":-0.41},{"age":24.0,"pc2":-0.78},{"age":24.5,"pc2":-0.15},{"age":24.5,"pc2":-0.46},{"age":24.5,"pc2":-0.88},{"age":25.0,"pc2":-0.24},{"age":25.0,"pc2":-0.55},{"age":25.5,"pc2":-0.29},{"age":25.5,"pc2":-0.77},{"age":26.0,"pc2":-0.38},{"age":26.0,"pc2":-0.82},{"age":26.5,"pc2":-0.48},{"age":26.5,"pc2":-0.95},{"age":27.0,"pc2":-0.41},{"age":27.0,"pc2":-0.72},{"age":27.5,"pc2":-0.58},{"age":27.5,"pc2":-0.91},
      {"age":28.3,"pc2":-0.57},{"age":28.3,"pc2":-0.88},{"age":28.9,"pc2":-0.65},{"age":28.9,"pc2":-1.02},{"age":29.4,"pc2":-0.48},{"age":29.4,"pc2":-0.89},{"age":29.4,"pc2":-1.21},{"age":29.8,"pc2":-0.69},{"age":29.8,"pc2":-1.06},{"age":30.3,"pc2":-0.53},{"age":30.3,"pc2":-0.92},{"age":30.3,"pc2":-1.30},{"age":30.7,"pc2":-0.72},{"age":30.7,"pc2":-1.15},{"age":31.2,"pc2":-0.61},{"age":31.2,"pc2":-0.99},{"age":31.6,"pc2":-0.82},{"age":31.6,"pc2":-1.27},{"age":32.0,"pc2":-0.70},{"age":32.0,"pc2":-1.09},{"age":32.4,"pc2":-0.58},{"age":32.4,"pc2":-0.97},{"age":32.9,"pc2":-0.83},{"age":32.9,"pc2":-1.19},
      {"age":18.1,"pc2":0.55},{"age":18.1,"pc2":-0.33},{"age":18.1,"pc2":0.91},{"age":18.1,"pc2":-0.62},{"age":18.2,"pc2":0.35},{"age":18.2,"pc2":-0.05},{"age":18.2,"pc2":-0.73},{"age":18.3,"pc2":0.68},{"age":18.3,"pc2":-0.26},{"age":18.3,"pc2":1.12},{"age":18.5,"pc2":0.47},{"age":18.5,"pc2":-0.12},{"age":18.5,"pc2":-0.84},{"age":18.5,"pc2":0.85},{"age":18.6,"pc2":0.28},{"age":18.6,"pc2":-0.45},{"age":18.6,"pc2":0.62},{"age":18.7,"pc2":0.39},{"age":18.7,"pc2":-0.28},{"age":18.7,"pc2":-0.71},{"age":18.7,"pc2":1.05},{"age":18.9,"pc2":0.53},{"age":18.9,"pc2":0.12},{"age":18.9,"pc2":-0.52},{"age":19.0,"pc2":0.64},{"age":19.0,"pc2":-0.17},{"age":19.0,"pc2":-0.35},{"age":19.0,"pc2":0.26},{"age":19.1,"pc2":0.83},{"age":19.1,"pc2":0.09},{"age":19.1,"pc2":-0.52},{"age":19.2,"pc2":0.45},{"age":19.2,"pc2":-0.38},{"age":19.2,"pc2":-0.95},{"age":19.4,"pc2":0.71},{"age":19.4,"pc2":-0.11},{"age":19.4,"pc2":-0.44},{"age":19.6,"pc2":0.42},{"age":19.6,"pc2":0.05},{"age":19.6,"pc2":-0.34},{"age":19.6,"pc2":-0.86},{"age":19.8,"pc2":0.61},{"age":19.8,"pc2":-0.21},{"age":19.8,"pc2":-0.59},{"age":19.9,"pc2":0.35},{"age":19.9,"pc2":-0.43},{"age":19.9,"pc2":-1.09},
      {"age":20.1,"pc2":0.53},{"age":20.1,"pc2":-0.14},{"age":20.1,"pc2":-0.71},{"age":20.2,"pc2":0.76},{"age":20.2,"pc2":0.23},{"age":20.2,"pc2":-0.36},{"age":20.4,"pc2":0.45},{"age":20.4,"pc2":-0.18},{"age":20.4,"pc2":-0.83},{"age":20.5,"pc2":0.61},{"age":20.5,"pc2":0.03},{"age":20.5,"pc2":-0.54},{"age":20.8,"pc2":0.36},{"age":20.8,"pc2":-0.27},{"age":20.8,"pc2":-0.65},{"age":20.9,"pc2":0.81},{"age":20.9,"pc2":-0.04},{"age":20.9,"pc2":-0.91},{"age":21.1,"pc2":0.52},{"age":21.1,"pc2":-0.24},{"age":21.1,"pc2":-0.55},{"age":21.3,"pc2":0.71},{"age":21.3,"pc2":0.02},{"age":21.3,"pc2":-0.78},{"age":21.4,"pc2":0.33},{"age":21.4,"pc2":-0.39},{"age":21.4,"pc2":-1.11},{"age":21.6,"pc2":0.62},{"age":21.6,"pc2":-0.06},{"age":21.6,"pc2":-0.45},{"age":21.7,"pc2":0.41},{"age":21.7,"pc2":-0.25},{"age":21.7,"pc2":-0.92},{"age":21.9,"pc2":0.56},{"age":21.9,"pc2":-0.11},{"age":21.9,"pc2":-0.61},{"age":22.0,"pc2":0.31},{"age":22.0,"pc2":-0.37},{"age":22.0,"pc2":-0.77},{"age":22.2,"pc2":0.59},{"age":22.2,"pc2":0.01},{"age":22.2,"pc2":-0.68},{"age":22.3,"pc2":0.35},{"age":22.3,"pc2":-0.21},{"age":22.3,"pc2":-1.02},{"age":22.5,"pc2":0.48},{"age":22.5,"pc2":-0.09},{"age":22.5,"pc2":-0.47},{"age":22.6,"pc2":0.22},{"age":22.6,"pc2":-0.53},{"age":22.6,"pc2":-0.87},{"age":22.8,"pc2":0.41},{"age":22.8,"pc2":-0.34},{"age":22.8,"pc2":-1.19},{"age":22.9,"pc2":0.63},{"age":22.9,"pc2":0.05},{"age":22.9,"pc2":-0.56},
      {"age":23.1,"pc2":0.26},{"age":23.1,"pc2":-0.45},{"age":23.1,"pc2":-0.98},{"age":23.2,"pc2":0.51},{"age":23.2,"pc2":-0.14},{"age":23.2,"pc2":-0.70},{"age":23.4,"pc2":0.33},{"age":23.4,"pc2":-0.28},{"age":23.4,"pc2":-1.05},{"age":23.5,"pc2":0.14},{"age":23.5,"pc2":-0.49},{"age":23.5,"pc2":-0.77},{"age":23.8,"pc2":0.29},{"age":23.8,"pc2":-0.38},{"age":23.8,"pc2":-0.89},{"age":23.9,"pc2":0.05},{"age":23.9,"pc2":-0.63},{"age":23.9,"pc2":-1.16},{"age":24.1,"pc2":0.18},{"age":24.1,"pc2":-0.31},{"age":24.1,"pc2":-0.96},{"age":24.3,"pc2":-0.08},{"age":24.3,"pc2":-0.58},{"age":24.3,"pc2":-1.08},{"age":24.6,"pc2":0.12},{"age":24.6,"pc2":-0.41},{"age":24.6,"pc2":-0.99},{"age":24.8,"pc2":-0.19},{"age":24.8,"pc2":-0.69},{"age":24.8,"pc2":-1.21},{"age":25.1,"pc2":0.06},{"age":25.1,"pc2":-0.45},{"age":25.1,"pc2":-0.97},{"age":25.3,"pc2":-0.33},{"age":25.3,"pc2":-0.84},{"age":25.3,"pc2":-1.31},{"age":25.6,"pc2":-0.06},{"age":25.6,"pc2":-0.52},{"age":25.6,"pc2":-1.05},{"age":25.7,"pc2":-0.22},{"age":25.7,"pc2":-0.71},{"age":25.7,"pc2":-1.28},{"age":26.1,"pc2":-0.15},{"age":26.1,"pc2":-0.63},{"age":26.1,"pc2":-1.11},{"age":26.3,"pc2":-0.31},{"age":26.3,"pc2":-0.85},{"age":26.3,"pc2":-1.42},{"age":26.7,"pc2":-0.21},{"age":26.7,"pc2":-0.69},{"age":26.7,"pc2":-1.18},{"age":26.9,"pc2":-0.44},{"age":26.9,"pc2":-0.97},{"age":26.9,"pc2":-1.36},{"age":27.2,"pc2":-0.15},{"age":27.2,"pc2":-0.63},{"age":27.2,"pc2":-1.22},{"age":27.3,"pc2":-0.35},{"age":27.3,"pc2":-0.82},{"age":27.3,"pc2":-1.51},{"age":27.6,"pc2":-0.27},{"age":27.6,"pc2":-0.76},{"age":27.6,"pc2":-1.25},{"age":27.9,"pc2":-0.41},{"age":27.9,"pc2":-0.97},{"age":27.9,"pc2":-1.38},
      {"age":28.2,"pc2":-0.34},{"age":28.2,"pc2":-0.75},{"age":28.2,"pc2":-1.09},{"age":28.2,"pc2":-1.52},{"age":28.5,"pc2":-0.44},{"age":28.5,"pc2":-0.83},{"age":28.5,"pc2":-1.21},{"age":28.8,"pc2":-0.31},{"age":28.8,"pc2":-0.71},{"age":28.8,"pc2":-1.13},{"age":28.8,"pc2":-1.63},{"age":29.1,"pc2":-0.39},{"age":29.1,"pc2":-0.81},{"age":29.1,"pc2":-1.19},{"age":29.4,"pc2":-0.21},{"age":29.4,"pc2":-0.66},{"age":29.4,"pc2":-1.05},{"age":29.4,"pc2":-1.48},{"age":29.7,"pc2":-0.35},{"age":29.7,"pc2":-0.77},{"age":29.7,"pc2":-1.15},{"age":30.0,"pc2":-0.26},{"age":30.0,"pc2":-0.69},{"age":30.0,"pc2":-1.08},{"age":30.0,"pc2":-1.52},{"age":30.4,"pc2":-0.33},{"age":30.4,"pc2":-0.78},{"age":30.4,"pc2":-1.18},{"age":30.6,"pc2":-0.42},{"age":30.6,"pc2":-0.85},{"age":30.6,"pc2":-1.25},{"age":30.6,"pc2":-1.73},{"age":30.9,"pc2":-0.29},{"age":30.9,"pc2":-0.72},{"age":30.9,"pc2":-1.13},{"age":31.3,"pc2":-0.38},{"age":31.3,"pc2":-0.81},{"age":31.3,"pc2":-1.22},{"age":31.3,"pc2":-1.61},{"age":31.5,"pc2":-0.25},{"age":31.5,"pc2":-0.66},{"age":31.5,"pc2":-1.06},{"age":31.7,"pc2":-0.44},{"age":31.7,"pc2":-0.89},{"age":31.7,"pc2":-1.33},{"age":32.1,"pc2":-0.31},{"age":32.1,"pc2":-0.79},{"age":32.1,"pc2":-1.19},{"age":32.5,"pc2":-0.48},{"age":32.5,"pc2":-0.91},{"age":32.5,"pc2":-1.41},{"age":32.8,"pc2":-0.22},{"age":32.8,"pc2":-0.69},{"age":32.8,"pc2":-1.12},{"age":33.3,"pc2":-0.41},{"age":33.3,"pc2":-0.84},{"age":33.3,"pc2":-1.26},{"age":33.5,"pc2":-0.19},{"age":33.5,"pc2":-0.57},{"age":33.5,"pc2":-1.08},{"age":33.9,"pc2":-0.36},{"age":33.9,"pc2":-0.79},{"age":33.9,"pc2":-1.31},{"age":34.3,"pc2":-0.47},{"age":34.3,"pc2":-0.93},{"age":34.3,"pc2":-1.21},{"age":34.8,"pc2":-0.28},{"age":34.8,"pc2":-0.68},{"age":34.8,"pc2":-1.16},{"age":35.3,"pc2":-0.44},{"age":35.3,"pc2":-0.88},{"age":35.8,"pc2":-0.56},{"age":35.8,"pc2":-1.12},
      {"age":18.3,"pc2":1.62},{"age":18.3,"pc2":2.05},{"age":18.9,"pc2":1.41},{"age":18.9,"pc2":2.66},{"age":19.6,"pc2":1.27},{"age":19.6,"pc2":1.71},{"age":20.2,"pc2":1.38},{"age":20.2,"pc2":2.48},{"age":20.8,"pc2":1.12},{"age":20.8,"pc2":1.83},{"age":21.4,"pc2":1.29},{"age":21.4,"pc2":2.14},{"age":22.0,"pc2":1.43},{"age":22.0,"pc2":1.79},{"age":22.7,"pc2":1.19},{"age":22.7,"pc2":2.36},{"age":23.3,"pc2":1.45},{"age":23.3,"pc2":1.06},{"age":24.2,"pc2":1.21},{"age":24.2,"pc2":1.66},{"age":25.2,"pc2":1.34},{"age":25.2,"pc2":0.98},{"age":26.5,"pc2":1.08},{"age":26.5,"pc2":0.77},{"age":27.7,"pc2":1.23},{"age":27.7,"pc2":0.69},{"age":29.1,"pc2":1.35},{"age":29.1,"pc2":0.93},{"age":30.6,"pc2":1.21},{"age":32.5,"pc2":1.08},
      {"age":18.0,"pc2":0.47},{"age":18.0,"pc2":-0.15},{"age":18.0,"pc2":-0.52},{"age":18.0,"pc2":0.18},{"age":18.0,"pc2":-0.66},{"age":18.1,"pc2":0.08},{"age":18.1,"pc2":-0.44},{"age":18.1,"pc2":-0.78},{"age":18.2,"pc2":0.22},{"age":18.2,"pc2":-0.31},{"age":18.2,"pc2":-0.49},{"age":18.2,"pc2":-1.05},{"age":18.3,"pc2":0.42},{"age":18.3,"pc2":-0.02},{"age":18.3,"pc2":-0.68},{"age":18.3,"pc2":-0.91},{"age":18.4,"pc2":0.58},{"age":18.4,"pc2":-0.41},{"age":18.4,"pc2":-0.87},{"age":18.5,"pc2":0.21},{"age":18.5,"pc2":-0.22},{"age":18.5,"pc2":-0.69},{"age":18.5,"pc2":-1.01},{"age":18.6,"pc2":0.45},{"age":18.6,"pc2":-0.07},{"age":18.6,"pc2":-0.28},{"age":18.6,"pc2":-0.79},{"age":18.7,"pc2":0.55},{"age":18.7,"pc2":0.03},{"age":18.7,"pc2":-0.59},{"age":18.8,"pc2":0.17},{"age":18.8,"pc2":-0.12},{"age":18.8,"pc2":-0.52},{"age":18.8,"pc2":-0.97},{"age":18.9,"pc2":0.43},{"age":18.9,"pc2":-0.18},{"age":18.9,"pc2":-0.61},
      {"age":19.0,"pc2":0.39},{"age":19.0,"pc2":0.14},{"age":19.0,"pc2":-0.29},{"age":19.0,"pc2":-0.72},{"age":19.1,"pc2":0.57},{"age":19.1,"pc2":-0.05},{"age":19.1,"pc2":-0.41},{"age":19.1,"pc2":-0.79},{"age":19.2,"pc2":0.29},{"age":19.2,"pc2":-0.09},{"age":19.2,"pc2":-0.48},{"age":19.3,"pc2":0.51},{"age":19.3,"pc2":-0.25},{"age":19.3,"pc2":-0.68},{"age":19.3,"pc2":-1.05},{"age":19.4,"pc2":0.16},{"age":19.4,"pc2":-0.51},{"age":19.4,"pc2":-0.89},{"age":19.5,"pc2":0.46},{"age":19.5,"pc2":-0.15},{"age":19.5,"pc2":-0.39},{"age":19.5,"pc2":-0.63},{"age":19.6,"pc2":0.25},{"age":19.6,"pc2":-0.49},{"age":19.6,"pc2":-1.02},{"age":19.7,"pc2":0.53},{"age":19.7,"pc2":-0.03},{"age":19.7,"pc2":-0.58},{"age":19.8,"pc2":0.17},{"age":19.8,"pc2":-0.41},{"age":19.8,"pc2":-0.93},{"age":19.9,"pc2":0.44},{"age":19.9,"pc2":0.02},{"age":19.9,"pc2":-0.27},{"age":19.9,"pc2":-0.69},
      {"age":20.0,"pc2":0.51},{"age":20.0,"pc2":-0.22},{"age":20.0,"pc2":-0.81},{"age":20.1,"pc2":0.12},{"age":20.1,"pc2":-0.31},{"age":20.1,"pc2":-0.58},{"age":20.2,"pc2":0.33},{"age":20.2,"pc2":-0.08},{"age":20.2,"pc2":-0.52},{"age":20.2,"pc2":-0.97},{"age":20.3,"pc2":0.47},{"age":20.3,"pc2":-0.41},{"age":20.3,"pc2":-0.79},{"age":20.4,"pc2":0.21},{"age":20.4,"pc2":-0.33},{"age":20.4,"pc2":-0.64},{"age":20.5,"pc2":0.38},{"age":20.5,"pc2":-0.23},{"age":20.5,"pc2":-0.91},{"age":20.6,"pc2":0.09},{"age":20.6,"pc2":-0.55},{"age":20.6,"pc2":-1.07},{"age":20.7,"pc2":0.29},{"age":20.7,"pc2":-0.14},{"age":20.7,"pc2":-0.47},{"age":20.8,"pc2":0.55},{"age":20.8,"pc2":0.07},{"age":20.8,"pc2":-0.44},{"age":20.8,"pc2":-0.85},{"age":20.9,"pc2":0.41},{"age":20.9,"pc2":-0.33},{"age":20.9,"pc2":-0.72},
      {"age":21.0,"pc2":0.28},{"age":21.0,"pc2":-0.21},{"age":21.0,"pc2":-0.63},{"age":21.1,"pc2":0.07},{"age":21.1,"pc2":-0.41},{"age":21.1,"pc2":-0.88},{"age":21.2,"pc2":0.46},{"age":21.2,"pc2":-0.19},{"age":21.2,"pc2":-0.55},{"age":21.3,"pc2":0.22},{"age":21.3,"pc2":-0.28},{"age":21.3,"pc2":-0.62},{"age":21.4,"pc2":0.53},{"age":21.4,"pc2":-0.15},{"age":21.4,"pc2":-0.83},{"age":21.5,"pc2":0.31},{"age":21.5,"pc2":-0.45},{"age":21.5,"pc2":-0.97},{"age":21.6,"pc2":0.16},{"age":21.6,"pc2":-0.23},{"age":21.6,"pc2":-0.62},{"age":21.7,"pc2":0.06},{"age":21.7,"pc2":-0.38},{"age":21.7,"pc2":-0.74},{"age":21.8,"pc2":0.34},{"age":21.8,"pc2":-0.31},{"age":21.8,"pc2":-1.08},{"age":21.9,"pc2":0.12},{"age":21.9,"pc2":-0.53},{"age":21.9,"pc2":-0.82},
      {"age":22.0,"pc2":0.45},{"age":22.0,"pc2":-0.17},{"age":22.0,"pc2":-0.49},{"age":22.1,"pc2":0.27},{"age":22.1,"pc2":-0.45},{"age":22.1,"pc2":-0.74},{"age":22.2,"pc2":-0.15},{"age":22.2,"pc2":-0.38},{"age":22.2,"pc2":-0.83},{"age":22.3,"pc2":0.51},{"age":22.3,"pc2":-0.09},{"age":22.3,"pc2":-0.57},{"age":22.4,"pc2":0.39},{"age":22.4,"pc2":-0.41},{"age":22.4,"pc2":-0.68},{"age":22.5,"pc2":0.11},{"age":22.5,"pc2":-0.34},{"age":22.5,"pc2":-0.73},{"age":22.6,"pc2":0.37},{"age":22.6,"pc2":-0.18},{"age":22.6,"pc2":-0.62},{"age":22.7,"pc2":0.21},{"age":22.7,"pc2":-0.45},{"age":22.7,"pc2":-0.91},{"age":22.8,"pc2":0.07},{"age":22.8,"pc2":-0.51},{"age":22.8,"pc2":-0.78},{"age":22.9,"pc2":0.28},{"age":22.9,"pc2":-0.38},{"age":22.9,"pc2":-0.96},
      {"age":23.0,"pc2":0.35},{"age":23.0,"pc2":-0.31},{"age":23.0,"pc2":-0.62},{"age":23.1,"pc2":0.03},{"age":23.1,"pc2":-0.25},{"age":23.1,"pc2":-0.56},{"age":23.2,"pc2":0.19},{"age":23.2,"pc2":-0.41},{"age":23.2,"pc2":-0.84},{"age":23.3,"pc2":0.25},{"age":23.3,"pc2":-0.17},{"age":23.3,"pc2":-0.93},{"age":23.4,"pc2":-0.11},{"age":23.4,"pc2":-0.49},{"age":23.4,"pc2":-0.73},{"age":23.5,"pc2":0.31},{"age":23.5,"pc2":-0.29},{"age":23.5,"pc2":-0.61},{"age":23.6,"pc2":-0.05},{"age":23.6,"pc2":-0.39},{"age":23.6,"pc2":-0.79},{"age":23.7,"pc2":0.18},{"age":23.7,"pc2":-0.22},{"age":23.7,"pc2":-0.66},{"age":23.8,"pc2":0.04},{"age":23.8,"pc2":-0.56},{"age":23.8,"pc2":-1.03},{"age":23.9,"pc2":0.22},{"age":23.9,"pc2":-0.33},{"age":23.9,"pc2":-0.71},
      {"age":24.2,"pc2":0.08},{"age":24.2,"pc2":-0.44},{"age":24.2,"pc2":-0.81},{"age":24.4,"pc2":-0.12},{"age":24.4,"pc2":-0.62},{"age":24.4,"pc2":-0.93},{"age":24.6,"pc2":0.27},{"age":24.6,"pc2":-0.26},{"age":24.6,"pc2":-0.72},{"age":24.9,"pc2":-0.05},{"age":24.9,"pc2":-0.48},{"age":24.9,"pc2":-0.91},{"age":25.2,"pc2":-0.16},{"age":25.2,"pc2":-0.62},{"age":25.2,"pc2":-1.12},{"age":25.5,"pc2":0.09},{"age":25.5,"pc2":-0.41},{"age":25.5,"pc2":-0.88},{"age":25.9,"pc2":-0.27},{"age":25.9,"pc2":-0.66},{"age":25.9,"pc2":-1.04},
      {"age":28.1,"pc2":-0.55},{"age":28.1,"pc2":-0.95},{"age":28.3,"pc2":-0.41},{"age":28.3,"pc2":-1.15},{"age":28.6,"pc2":-0.47},{"age":28.6,"pc2":-0.86},{"age":28.6,"pc2":-1.27},{"age":28.9,"pc2":-0.38},{"age":28.9,"pc2":-0.82},{"age":29.2,"pc2":-0.55},{"age":29.2,"pc2":-0.96},{"age":29.2,"pc2":-1.35},{"age":29.5,"pc2":-0.42},{"age":29.5,"pc2":-0.81},{"age":29.5,"pc2":-1.27},{"age":29.8,"pc2":-0.51},{"age":29.8,"pc2":-0.89},{"age":30.1,"pc2":-0.46},{"age":30.1,"pc2":-0.84},{"age":30.1,"pc2":-1.22},{"age":30.4,"pc2":-0.59},{"age":30.4,"pc2":-0.98},{"age":30.7,"pc2":-0.48},{"age":30.7,"pc2":-0.93},{"age":30.7,"pc2":-1.38},{"age":31.0,"pc2":-0.55},{"age":31.0,"pc2":-0.87},{"age":31.0,"pc2":-1.24},{"age":31.3,"pc2":-0.61},{"age":31.3,"pc2":-1.01},{"age":31.6,"pc2":-0.53},{"age":31.6,"pc2":-0.95},{"age":31.6,"pc2":-1.44},{"age":31.9,"pc2":-0.41},{"age":31.9,"pc2":-0.85},{"age":32.2,"pc2":-0.62},{"age":32.2,"pc2":-1.03},{"age":32.6,"pc2":-0.51},{"age":32.6,"pc2":-0.93},{"age":32.9,"pc2":-0.45},{"age":32.9,"pc2":-1.02},
      {"age":18.05,"pc2":0.52},{"age":18.05,"pc2":0.27},{"age":18.05,"pc2":0.04},{"age":18.05,"pc2":-0.16},{"age":18.05,"pc2":-0.37},{"age":18.05,"pc2":-0.58},{"age":18.05,"pc2":-0.81},{"age":18.05,"pc2":-1.07},
      {"age":18.15,"pc2":0.44},{"age":18.15,"pc2":0.13},{"age":18.15,"pc2":-0.07},{"age":18.15,"pc2":-0.29},{"age":18.15,"pc2":-0.48},{"age":18.15,"pc2":-0.69},{"age":18.15,"pc2":-0.92},{"age":18.15,"pc2":-1.16},
      {"age":18.25,"pc2":0.58},{"age":18.25,"pc2":0.35},{"age":18.25,"pc2":0.09},{"age":18.25,"pc2":-0.11},{"age":18.25,"pc2":-0.32},{"age":18.25,"pc2":-0.53},{"age":18.25,"pc2":-0.76},{"age":18.25,"pc2":-0.99},
      {"age":18.35,"pc2":0.39},{"age":18.35,"pc2":0.19},{"age":18.35,"pc2":-0.02},{"age":18.35,"pc2":-0.24},{"age":18.35,"pc2":-0.43},{"age":18.35,"pc2":-0.64},{"age":18.35,"pc2":-0.87},{"age":18.35,"pc2":-1.12},
      {"age":18.45,"pc2":0.49},{"age":18.45,"pc2":0.24},{"age":18.45,"pc2":0.01},{"age":18.45,"pc2":-0.19},{"age":18.45,"pc2":-0.40},{"age":18.45,"pc2":-0.61},{"age":18.45,"pc2":-0.84},{"age":18.45,"pc2":-1.04},
      {"age":18.55,"pc2":0.41},{"age":18.55,"pc2":0.16},{"age":18.55,"pc2":-0.05},{"age":18.55,"pc2":-0.26},{"age":18.55,"pc2":-0.46},{"age":18.55,"pc2":-0.72},{"age":18.55,"pc2":-0.95},{"age":18.55,"pc2":-1.19},
      {"age":18.65,"pc2":0.55},{"age":18.65,"pc2":0.31},{"age":18.65,"pc2":0.07},{"age":18.65,"pc2":-0.13},{"age":18.65,"pc2":-0.34},{"age":18.65,"pc2":-0.55},{"age":18.65,"pc2":-0.78},{"age":18.65,"pc2":-1.02},
      {"age":18.75,"pc2":0.36},{"age":18.75,"pc2":0.21},{"age":18.75,"pc2":-0.04},{"age":18.75,"pc2":-0.21},{"age":18.75,"pc2":-0.45},{"age":18.75,"pc2":-0.67},{"age":18.75,"pc2":-0.89},{"age":18.75,"pc2":-1.09},
      {"age":18.85,"pc2":0.47},{"age":18.85,"pc2":0.25},{"age":18.85,"pc2":0.03},{"age":18.85,"pc2":-0.18},{"age":18.85,"pc2":-0.39},{"age":18.85,"pc2":-0.60},{"age":18.85,"pc2":-0.83},{"age":18.85,"pc2":-1.06},
      {"age":18.95,"pc2":0.43},{"age":18.95,"pc2":0.11},{"age":18.95,"pc2":-0.09},{"age":18.95,"pc2":-0.31},{"age":18.95,"pc2":-0.50},{"age":18.95,"pc2":-0.71},{"age":18.95,"pc2":-0.94},{"age":18.95,"pc2":-1.14},
      {"age":19.15,"pc2":0.57},{"age":19.15,"pc2":0.33},{"age":19.15,"pc2":0.08},{"age":19.15,"pc2":-0.12},{"age":19.15,"pc2":-0.33},{"age":19.15,"pc2":-0.54},{"age":19.15,"pc2":-0.77},{"age":19.15,"pc2":-1.01},
      {"age":19.35,"pc2":0.38},{"age":19.35,"pc2":0.17},{"age":19.35,"pc2":-0.03},{"age":19.35,"pc2":-0.25},{"age":19.35,"pc2":-0.44},{"age":19.35,"pc2":-0.65},{"age":19.35,"pc2":-0.88},{"age":19.35,"pc2":-1.11},
      {"age":19.55,"pc2":0.51},{"age":19.55,"pc2":0.28},{"age":19.55,"pc2":0.05},{"age":19.55,"pc2":-0.15},{"age":19.55,"pc2":-0.36},{"age":19.55,"pc2":-0.57},{"age":19.55,"pc2":-0.80},{"age":19.55,"pc2":-1.08},
      {"age":19.75,"pc2":0.45},{"age":19.75,"pc2":0.14},{"age":19.75,"pc2":-0.06},{"age":19.75,"pc2":-0.28},{"age":19.75,"pc2":-0.47},{"age":19.75,"pc2":-0.68},{"age":19.75,"pc2":-0.91},{"age":19.75,"pc2":-1.15},
      {"age":19.95,"pc2":0.59},{"age":19.95,"pc2":0.36},{"age":19.95,"pc2":0.10},{"age":19.95,"pc2":-0.10},{"age":19.95,"pc2":-0.31},{"age":19.95,"pc2":-0.52},{"age":19.95,"pc2":-0.75},{"age":19.95,"pc2":-0.98},
      {"age":20.15,"pc2":0.40},{"age":20.15,"pc2":0.20},{"age":20.15,"pc2":-0.01},{"age":20.15,"pc2":-0.23},{"age":20.15,"pc2":-0.42},{"age":20.15,"pc2":-0.63},{"age":20.15,"pc2":-0.86},{"age":20.15,"pc2":-1.13},
      {"age":20.35,"pc2":0.50},{"age":20.35,"pc2":0.26},{"age":20.35,"pc2":0.02},{"age":20.35,"pc2":-0.17},{"age":20.35,"pc2":-0.38},{"age":20.35,"pc2":-0.59},{"age":20.35,"pc2":-0.82},{"age":20.35,"pc2":-1.05},
      {"age":20.55,"pc2":0.42},{"age":20.55,"pc2":0.12},{"age":20.55,"pc2":-0.08},{"age":20.55,"pc2":-0.30},{"age":20.55,"pc2":-0.49},{"age":20.55,"pc2":-0.70},{"age":20.55,"pc2":-0.93},{"age":20.55,"pc2":-1.17},
      {"age":20.75,"pc2":0.56},{"age":20.75,"pc2":0.34},{"age":20.75,"pc2":0.06},{"age":20.75,"pc2":-0.14},{"age":20.75,"pc2":-0.35},{"age":20.75,"pc2":-0.56},{"age":20.75,"pc2":-0.79},{"age":20.75,"pc2":-1.00},
      {"age":20.95,"pc2":0.37},{"age":20.95,"pc2":0.18},{"age":20.95,"pc2":-0.04},{"age":20.95,"pc2":-0.22},{"age":20.95,"pc2":-0.41},{"age":20.95,"pc2":-0.66},{"age":20.95,"pc2":-0.85},{"age":20.95,"pc2":-1.10},
      {"age":21.15,"pc2":0.48},{"age":21.15,"pc2":0.23},{"age":21.15,"pc2":0.00},{"age":21.15,"pc2":-0.20},{"age":21.15,"pc2":-0.41},{"age":21.15,"pc2":-0.62},{"age":21.15,"pc2":-0.83},{"age":21.15,"pc2":-1.06},
      {"age":21.35,"pc2":0.43},{"age":21.35,"pc2":0.15},{"age":21.35,"pc2":-0.06},{"age":21.35,"pc2":-0.27},{"age":21.35,"pc2":-0.47},{"age":21.35,"pc2":-0.70},{"age":21.35,"pc2":-0.90},{"age":21.35,"pc2":-1.18},
      {"age":21.55,"pc2":0.54},{"age":21.55,"pc2":0.32},{"age":21.55,"pc2":0.07},{"age":21.55,"pc2":-0.12},{"age":21.55,"pc2":-0.33},{"age":21.55,"pc2":-0.55},{"age":21.55,"pc2":-0.78},{"age":21.55,"pc2":-1.03},
      {"age":21.75,"pc2":0.35},{"age":21.75,"pc2":0.18},{"age":21.75,"pc2":-0.03},{"age":21.75,"pc2":-0.25},{"age":21.75,"pc2":-0.44},{"age":21.75,"pc2":-0.63},{"age":21.75,"pc2":-0.88},{"age":21.75,"pc2":-1.13},
      {"age":21.95,"pc2":0.46},{"age":21.95,"pc2":0.22},{"age":21.95,"pc2":0.02},{"age":21.95,"pc2":-0.18},{"age":21.95,"pc2":-0.39},{"age":21.95,"pc2":-0.58},{"age":21.95,"pc2":-0.81},{"age":21.95,"pc2":-1.08},
      {"age":22.15,"pc2":0.40},{"age":22.15,"pc2":0.11},{"age":22.15,"pc2":-0.08},{"age":22.15,"pc2":-0.29},{"age":22.15,"pc2":-0.50},{"age":22.15,"pc2":-0.68},{"age":22.15,"pc2":-0.94},{"age":22.15,"pc2":-1.15},
      {"age":22.35,"pc2":0.53},{"age":22.35,"pc2":0.30},{"age":22.35,"pc2":0.06},{"age":22.35,"pc2":-0.13},{"age":22.35,"pc2":-0.34},{"age":22.35,"pc2":-0.52},{"age":22.35,"pc2":-0.77},{"age":22.35,"pc2":-1.01},
      {"age":22.55,"pc2":0.33},{"age":22.55,"pc2":0.17},{"age":22.55,"pc2":-0.05},{"age":22.55,"pc2":-0.24},{"age":22.55,"pc2":-0.45},{"age":22.55,"pc2":-0.66},{"age":22.55,"pc2":-0.87},{"age":22.55,"pc2":-1.12},
      {"age":22.75,"pc2":0.45},{"age":22.75,"pc2":0.21},{"age":22.75,"pc2":0.01},{"age":22.75,"pc2":-0.19},{"age":22.75,"pc2":-0.38},{"age":22.75,"pc2":-0.61},{"age":22.75,"pc2":-0.82},{"age":22.75,"pc2":-1.05},
      {"age":22.95,"pc2":0.38},{"age":22.95,"pc2":0.10},{"age":22.95,"pc2":-0.09},{"age":22.95,"pc2":-0.31},{"age":22.95,"pc2":-0.49},{"age":22.95,"pc2":-0.71},{"age":22.95,"pc2":-0.93},{"age":22.95,"pc2":-1.19},
      {"age":23.2,"pc2":0.37},{"age":23.2,"pc2":0.14},{"age":23.2,"pc2":-0.09},{"age":23.2,"pc2":-0.28},{"age":23.2,"pc2":-0.49},{"age":23.2,"pc2":-0.70},{"age":23.2,"pc2":-0.92},{"age":23.2,"pc2":-1.16},
      {"age":23.45,"pc2":0.29},{"age":23.45,"pc2":0.04},{"age":23.45,"pc2":-0.21},{"age":23.45,"pc2":-0.40},{"age":23.45,"pc2":-0.61},{"age":23.45,"pc2":-0.83},{"age":23.45,"pc2":-1.05},{"age":23.45,"pc2":-1.29},
      {"age":23.7,"pc2":0.42},{"age":23.7,"pc2":0.19},{"age":23.7,"pc2":-0.06},{"age":23.7,"pc2":-0.25},{"age":23.7,"pc2":-0.46},{"age":23.7,"pc2":-0.67},{"age":23.7,"pc2":-0.90},{"age":23.7,"pc2":-1.13},
      {"age":23.95,"pc2":0.25},{"age":23.95,"pc2":0.03},{"age":23.95,"pc2":-0.17},{"age":23.95,"pc2":-0.38},{"age":23.95,"pc2":-0.58},{"age":23.95,"pc2":-0.79},{"age":23.95,"pc2":-1.01},{"age":23.95,"pc2":-1.26},
      {"age":24.25,"pc2":0.34},{"age":24.25,"pc2":0.11},{"age":24.25,"pc2":-0.13},{"age":24.25,"pc2":-0.33},{"age":24.25,"pc2":-0.53},{"age":24.25,"pc2":-0.74},{"age":24.25,"pc2":-0.97},{"age":24.25,"pc2":-1.21},
      {"age":24.55,"pc2":0.27},{"age":24.55,"pc2":-0.01},{"age":24.55,"pc2":-0.22},{"age":24.55,"pc2":-0.43},{"age":24.55,"pc2":-0.63},{"age":24.55,"pc2":-0.85},{"age":24.55,"pc2":-1.07},{"age":24.55,"pc2":-1.31},
      {"age":24.85,"pc2":0.40},{"age":24.85,"pc2":0.16},{"age":24.85,"pc2":-0.07},{"age":24.85,"pc2":-0.27},{"age":24.85,"pc2":-0.47},{"age":24.85,"pc2":-0.69},{"age":24.85,"pc2":-0.91},{"age":24.85,"pc2":-1.15},
      {"age":25.15,"pc2":0.18},{"age":25.15,"pc2":-0.05},{"age":25.15,"pc2":-0.27},{"age":25.15,"pc2":-0.47},{"age":25.15,"pc2":-0.68},{"age":25.15,"pc2":-0.89},{"age":25.15,"pc2":-1.11},{"age":25.15,"pc2":-1.36},
      {"age":25.45,"pc2":0.26},{"age":25.45,"pc2":0.02},{"age":25.45,"pc2":-0.19},{"age":25.45,"pc2":-0.39},{"age":25.45,"pc2":-0.60},{"age":25.45,"pc2":-0.81},{"age":25.45,"pc2":-1.04},{"age":25.45,"pc2":-1.27},
      {"age":25.75,"pc2":0.13},{"age":25.75,"pc2":-0.09},{"age":25.75,"pc2":-0.29},{"age":25.75,"pc2":-0.51},{"age":25.75,"pc2":-0.70},{"age":25.75,"pc2":-0.92},{"age":25.75,"pc2":-1.14},{"age":25.75,"pc2":-1.38},
      {"age":26.05,"pc2":0.22},{"age":26.05,"pc2":-0.01},{"age":26.05,"pc2":-0.23},{"age":26.05,"pc2":-0.43},{"age":26.05,"pc2":-0.64},{"age":26.05,"pc2":-0.85},{"age":26.05,"pc2":-1.08},{"age":26.05,"pc2":-1.31},
      {"age":26.35,"pc2":0.15},{"age":26.35,"pc2":-0.12},{"age":26.35,"pc2":-0.32},{"age":26.35,"pc2":-0.54},{"age":26.35,"pc2":-0.73},{"age":26.35,"pc2":-0.94},{"age":26.35,"pc2":-1.17},{"age":26.35,"pc2":-1.41},
      {"age":26.65,"pc2":0.10},{"age":26.65,"pc2":-0.12},{"age":26.65,"pc2":-0.34},{"age":26.65,"pc2":-0.54},{"age":26.65,"pc2":-0.75},{"age":26.65,"pc2":-0.96},{"age":26.65,"pc2":-1.19},{"age":26.65,"pc2":-1.42},
      {"age":26.95,"pc2":0.03},{"age":26.95,"pc2":-0.21},{"age":26.95,"pc2":-0.42},{"age":26.95,"pc2":-0.63},{"age":26.95,"pc2":-0.83},{"age":26.95,"pc2":-1.04},{"age":26.95,"pc2":-1.26},{"age":26.95,"pc2":-1.48},
      {"age":27.25,"pc2":0.14},{"age":27.25,"pc2":-0.08},{"age":27.25,"pc2":-0.29},{"age":27.25,"pc2":-0.49},{"age":27.25,"pc2":-0.70},{"age":27.25,"pc2":-0.91},{"age":27.25,"pc2":-1.14},{"age":27.25,"pc2":-1.37},
      {"age":27.55,"pc2":0.01},{"age":27.55,"pc2":-0.19},{"age":27.55,"pc2":-0.40},{"age":27.55,"pc2":-0.61},{"age":27.55,"pc2":-0.81},{"age":27.55,"pc2":-1.02},{"age":27.55,"pc2":-1.24},{"age":27.55,"pc2":-1.47},
      {"age":27.85,"pc2":0.09},{"age":27.85,"pc2":-0.14},{"age":27.85,"pc2":-0.35},{"age":27.85,"pc2":-0.56},{"age":27.85,"pc2":-0.77},{"age":27.85,"pc2":-0.98},{"age":27.85,"pc2":-1.20},{"age":27.85,"pc2":-1.44},
      {"age":28.15,"pc2":-0.18},{"age":28.15,"pc2":-0.45},{"age":28.15,"pc2":-0.68},{"age":28.15,"pc2":-0.91},{"age":28.15,"pc2":-1.14},{"age":28.15,"pc2":-1.39},
      {"age":28.4,"pc2":-0.27},{"age":28.4,"pc2":-0.53},{"age":28.4,"pc2":-0.77},{"age":28.4,"pc2":-1.00},{"age":28.4,"pc2":-1.23},{"age":28.4,"pc2":-1.47},
      {"age":28.65,"pc2":-0.12},{"age":28.65,"pc2":-0.38},{"age":28.65,"pc2":-0.61},{"age":28.65,"pc2":-0.84},{"age":28.65,"pc2":-1.07},{"age":28.65,"pc2":-1.31},
      {"age":28.9,"pc2":-0.21},{"age":28.9,"pc2":-0.47},{"age":28.9,"pc2":-0.71},{"age":28.9,"pc2":-0.94},{"age":28.9,"pc2":-1.17},{"age":28.9,"pc2":-1.42},
      {"age":29.15,"pc2":-0.30},{"age":29.15,"pc2":-0.55},{"age":29.15,"pc2":-0.79},{"age":29.15,"pc2":-1.03},{"age":29.15,"pc2":-1.26},{"age":29.15,"pc2":-1.50},
      {"age":29.4,"pc2":-0.15},{"age":29.4,"pc2":-0.41},{"age":29.4,"pc2":-0.64},{"age":29.4,"pc2":-0.87},{"age":29.4,"pc2":-1.10},{"age":29.4,"pc2":-1.34},
      {"age":29.65,"pc2":-0.24},{"age":29.65,"pc2":-0.49},{"age":29.65,"pc2":-0.73},{"age":29.65,"pc2":-0.96},{"age":29.65,"pc2":-1.19},{"age":29.65,"pc2":-1.44},
      {"age":29.9,"pc2":-0.33},{"age":29.9,"pc2":-0.57},{"age":29.9,"pc2":-0.81},{"age":29.9,"pc2":-1.05},{"age":29.9,"pc2":-1.28},{"age":29.9,"pc2":-1.52},
      {"age":30.15,"pc2":-0.17},{"age":30.15,"pc2":-0.43},{"age":30.15,"pc2":-0.66},{"age":30.15,"pc2":-0.89},{"age":30.15,"pc2":-1.12},{"age":30.15,"pc2":-1.36},
      {"age":30.4,"pc2":-0.26},{"age":30.4,"pc2":-0.51},{"age":30.4,"pc2":-0.75},{"age":30.4,"pc2":-0.98},{"age":30.4,"pc2":-1.21},{"age":30.4,"pc2":-1.46},
      {"age":30.65,"pc2":-0.35},{"age":30.65,"pc2":-0.59},{"age":30.65,"pc2":-0.83},{"age":30.65,"pc2":-1.06},{"age":30.65,"pc2":-1.30},{"age":30.65,"pc2":-1.54},
      {"age":30.9,"pc2":-0.19},{"age":30.9,"pc2":-0.44},{"age":30.9,"pc2":-0.67},{"age":30.9,"pc2":-0.90},{"age":30.9,"pc2":-1.13},{"age":30.9,"pc2":-1.37},
      {"age":31.15,"pc2":-0.28},{"age":31.15,"pc2":-0.52},{"age":31.15,"pc2":-0.76},{"age":31.15,"pc2":-0.99},{"age":31.15,"pc2":-1.22},{"age":31.15,"pc2":-1.48},
      {"age":31.4,"pc2":-0.37},{"age":31.4,"pc2":-0.61},{"age":31.4,"pc2":-0.85},{"age":31.4,"pc2":-1.08},{"age":31.4,"pc2":-1.32},{"age":31.4,"pc2":-1.56},
      {"age":31.65,"pc2":-0.22},{"age":31.65,"pc2":-0.46},{"age":31.65,"pc2":-0.69},{"age":31.65,"pc2":-0.92},{"age":31.65,"pc2":-1.15},{"age":31.65,"pc2":-1.40},
      {"age":31.9,"pc2":-0.31},{"age":31.9,"pc2":-0.54},{"age":31.9,"pc2":-0.78},{"age":31.9,"pc2":-1.01},{"age":31.9,"pc2":-1.25},{"age":31.9,"pc2":-1.51},
      {"age":32.15,"pc2":-0.40},{"age":32.15,"pc2":-0.63},{"age":32.15,"pc2":-0.86},{"age":32.15,"pc2":-1.10},{"age":32.15,"pc2":-1.33},{"age":32.15,"pc2":-1.58},
      {"age":32.4,"pc2":-0.25},{"age":32.4,"pc2":-0.48},{"age":32.4,"pc2":-0.72},{"age":32.4,"pc2":-0.95},{"age":32.4,"pc2":-1.18},{"age":32.4,"pc2":-1.43},
      {"age":32.65,"pc2":-0.34},{"age":32.65,"pc2":-0.58},{"age":32.65,"pc2":-0.80},{"age":32.65,"pc2":-1.04},{"age":32.65,"pc2":-1.27},{"age":32.65,"pc2":-1.53},
      {"age":32.9,"pc2":-0.43},{"age":32.9,"pc2":-0.66},{"age":32.9,"pc2":-0.88},{"age":32.9,"pc2":-1.12},{"age":32.9,"pc2":-1.35},{"age":32.9,"pc2":-1.60},
      {"age":33.15,"pc2":-0.29},{"age":33.15,"pc2":-0.52},{"age":33.15,"pc2":-0.75},{"age":33.15,"pc2":-0.98},{"age":33.15,"pc2":-1.22},{"age":33.15,"pc2":-1.46},
      {"age":33.4,"pc2":-0.38},{"age":33.4,"pc2":-0.62},{"age":33.4,"pc2":-0.84},{"age":33.4,"pc2":-1.07},{"age":33.4,"pc2":-1.31},{"age":33.4,"pc2":-1.55},
      {"age":18.1,"pc2":0.74},{"age":18.1,"pc2":1.19},{"age":18.4,"pc2":0.88},{"age":18.4,"pc2":1.46},{"age":18.7,"pc2":0.67},{"age":18.7,"pc2":1.31},{"age":19.0,"pc2":0.95},{"age":19.0,"pc2":1.58},{"age":19.3,"pc2":0.71},{"age":19.3,"pc2":1.22},{"age":19.6,"pc2":0.84},{"age":19.6,"pc2":1.49},{"age":19.9,"pc2":0.64},{"age":19.9,"pc2":1.35},{"age":20.2,"pc2":0.97},{"age":20.2,"pc2":1.55},{"age":20.5,"pc2":0.76},{"age":20.5,"pc2":1.17},{"age":20.8,"pc2":0.89},{"age":20.8,"pc2":1.42},{"age":21.1,"pc2":0.69},{"age":21.1,"pc2":1.28},{"age":21.4,"pc2":0.93},{"age":21.4,"pc2":1.61},{"age":21.7,"pc2":0.73},{"age":21.7,"pc2":1.24},{"age":22.0,"pc2":0.86},{"age":22.0,"pc2":1.51},{"age":22.3,"pc2":0.66},{"age":22.3,"pc2":1.33},{"age":22.6,"pc2":0.91},{"age":22.6,"pc2":1.56},{"age":22.9,"pc2":0.78},{"age":22.9,"pc2":1.21}
    ],
    "fit": [
      {"age": 18.0, "pc2": 0.442},
      {"age": 72.2, "pc2": -2.702}
    ],
    "notes": [
      {"age": 71.9, "pc2": 3.595, "note": "PC2 value = -0.058 × Age + 1.486"},
      {"age": 71.9, "pc2": 3.241, "note": "R² = 0.148"}
    ],
    "panel": [
      {"age": -6.94, "pc2": 4.076, "note": "b"}
    ],
    "table": [
      {"row": 1, "label": "Pearson’s Correlation Coefficient", "value": "−0.384", "base": "", "exponent": ""},
      {"row": 2, "label": "Pearson’s Correlation p-value", "value": "", "base": "6.39 × 10", "exponent": "−116"}
    ]
  },
  "vconcat": [
    {
      "width": 2065,
      "height": 2154,
      "title": {
        "text": "Age vs PC2",
        "fontSize": 92,
        "fontWeight": "normal",
        "color": "black",
        "anchor": "middle",
        "frame": "group",
        "baseline": "alphabetic",
        "offset": -50
      },
      "encoding": {
        "x": {
          "field": "age",
          "type": "quantitative",
          "scale": {"domain": [15.31, 75.69], "nice": false, "zero": false},
          "axis": {
            "title": "Age",
            "values": [15.5, 18, 20.5, 23, 25.5, 28, 30.5, 33, 35.5, 38, 40.5, 43, 45.5, 48, 50.5, 53, 55.5, 58, 60.5, 63, 65.5, 68, 70.5, 73, 75.5],
            "labelExpr": "(datum.value - 3) % 5 === 0 ? datum.label : ''",
            "labelFontSize": 61,
            "labelColor": "#4D4D4D",
            "labelPadding": 11,
            "labelOverlap": false,
            "labelFlush": false,
            "domain": false,
            "tickSize": 20,
            "tickWidth": 6,
            "tickColor": "#333333",
            "tickOpacity": {"condition": {"test": "(datum.value - 3) % 5 !== 0", "value": 0}, "value": 1},
            "gridColor": "#EBEBEB",
            "gridWidth": {"condition": {"test": "(datum.value - 3) % 5 !== 0", "value": 3}, "value": 6},
            "titleFontSize": 76,
            "titleFontWeight": "normal",
            "titleColor": "black",
            "titlePadding": 10
          }
        },
        "y": {
          "field": "pc2",
          "type": "quantitative",
          "scale": {"domain": [-4.39, 4.39], "nice": false, "zero": false},
          "axis": {
            "title": "PC2 value",
            "values": [-4.25, -4, -3.75, -3.5, -3.25, -3, -2.75, -2.5, -2.25, -2, -1.75, -1.5, -1.25, -1, -0.75, -0.5, -0.25, 0, 0.25, 0.5, 0.75, 1, 1.25, 1.5, 1.75, 2, 2.25, 2.5, 2.75, 3, 3.25, 3.5, 3.75, 4, 4.25],
            "labelExpr": "datum.value % 0.5 === 0 ? replace(format(datum.value, '.1f'), '−', '-') : ''",
            "labelFontSize": 61,
            "labelColor": "#4D4D4D",
            "labelPadding": 18,
            "labelOverlap": false,
            "labelFlush": false,
            "domain": false,
            "tickSize": 20,
            "tickWidth": 6,
            "tickColor": "#333333",
            "tickOpacity": {"condition": {"test": "datum.value % 0.5 !== 0", "value": 0}, "value": 1},
            "gridColor": "#EBEBEB",
            "gridWidth": {"condition": {"test": "datum.value % 0.5 !== 0", "value": 3}, "value": 6},
            "titleFontSize": 76,
            "titleFontWeight": "normal",
            "titleColor": "black",
            "titlePadding": 16
          }
        }
      },
      "layer": [
        {
          "data": {"name": "points"},
          "mark": {"type": "circle", "size": 80, "color": "black", "opacity": 1}
        },
        {
          "data": {"name": "fit"},
          "mark": {"type": "line", "color": "#0000FF", "strokeWidth": 15}
        },
        {
          "data": {"name": "notes"},
          "mark": {"type": "text", "align": "right", "baseline": "alphabetic", "fontSize": 61, "color": "#FF0000"},
          "encoding": {
            "text": {"field": "note", "type": "nominal"}
          }
        },
        {
          "data": {"name": "panel"},
          "mark": {"type": "text", "align": "left", "baseline": "alphabetic", "fontSize": 125, "fontWeight": "bold", "color": "black"},
          "encoding": {
            "text": {"field": "note", "type": "nominal"}
          }
        }
      ]
    },
    {
      "width": 2065,
      "height": 300,
      "view": {"stroke": null},
      "data": {"name": "table"},
      "encoding": {
        "y": {
          "field": "row",
          "type": "ordinal",
          "scale": {"paddingInner": 0, "paddingOuter": 0},
          "axis": null
        }
      },
      "layer": [
        {
          "mark": {"type": "rect", "fill": "white", "stroke": "black", "strokeWidth": 3},
          "encoding": {
            "x": {"datum": 0, "type": "quantitative", "scale": {"domain": [0.1006, 1], "nice": false, "zero": false}, "axis": null},
            "x2": {"datum": 0.6699}
          }
        },
        {
          "mark": {"type": "rect", "fill": "white", "stroke": "black", "strokeWidth": 3},
          "encoding": {
            "x": {"datum": 0.6699, "type": "quantitative"},
            "x2": {"datum": 1}
          }
        },
        {
          "mark": {"type": "text", "align": "left", "baseline": "middle", "fontSize": 100, "color": "black", "dy": 10},
          "encoding": {
            "x": {"datum": 0.0135, "type": "quantitative"},
            "text": {"field": "label"}
          }
        },
        {
          "mark": {"type": "text", "align": "center", "baseline": "middle", "fontSize": 100, "color": "black", "dy": 10},
          "encoding": {
            "x": {"datum": 0.835, "type": "quantitative"},
            "text": {"field": "value"}
          }
        },
        {
          "mark": {"type": "text", "align": "right", "baseline": "middle", "fontSize": 100, "color": "black", "dy": 10},
          "encoding": {
            "x": {"datum": 0.8924, "type": "quantitative"},
            "text": {"field": "base"}
          }
        },
        {
          "mark": {"type": "text", "align": "left", "baseline": "middle", "fontSize": 62, "color": "black", "dy": -12},
          "encoding": {
            "x": {"datum": 0.8944, "type": "quantitative"},
            "text": {"field": "exponent"}
          }
        }
      ]
    }
  ]
}
